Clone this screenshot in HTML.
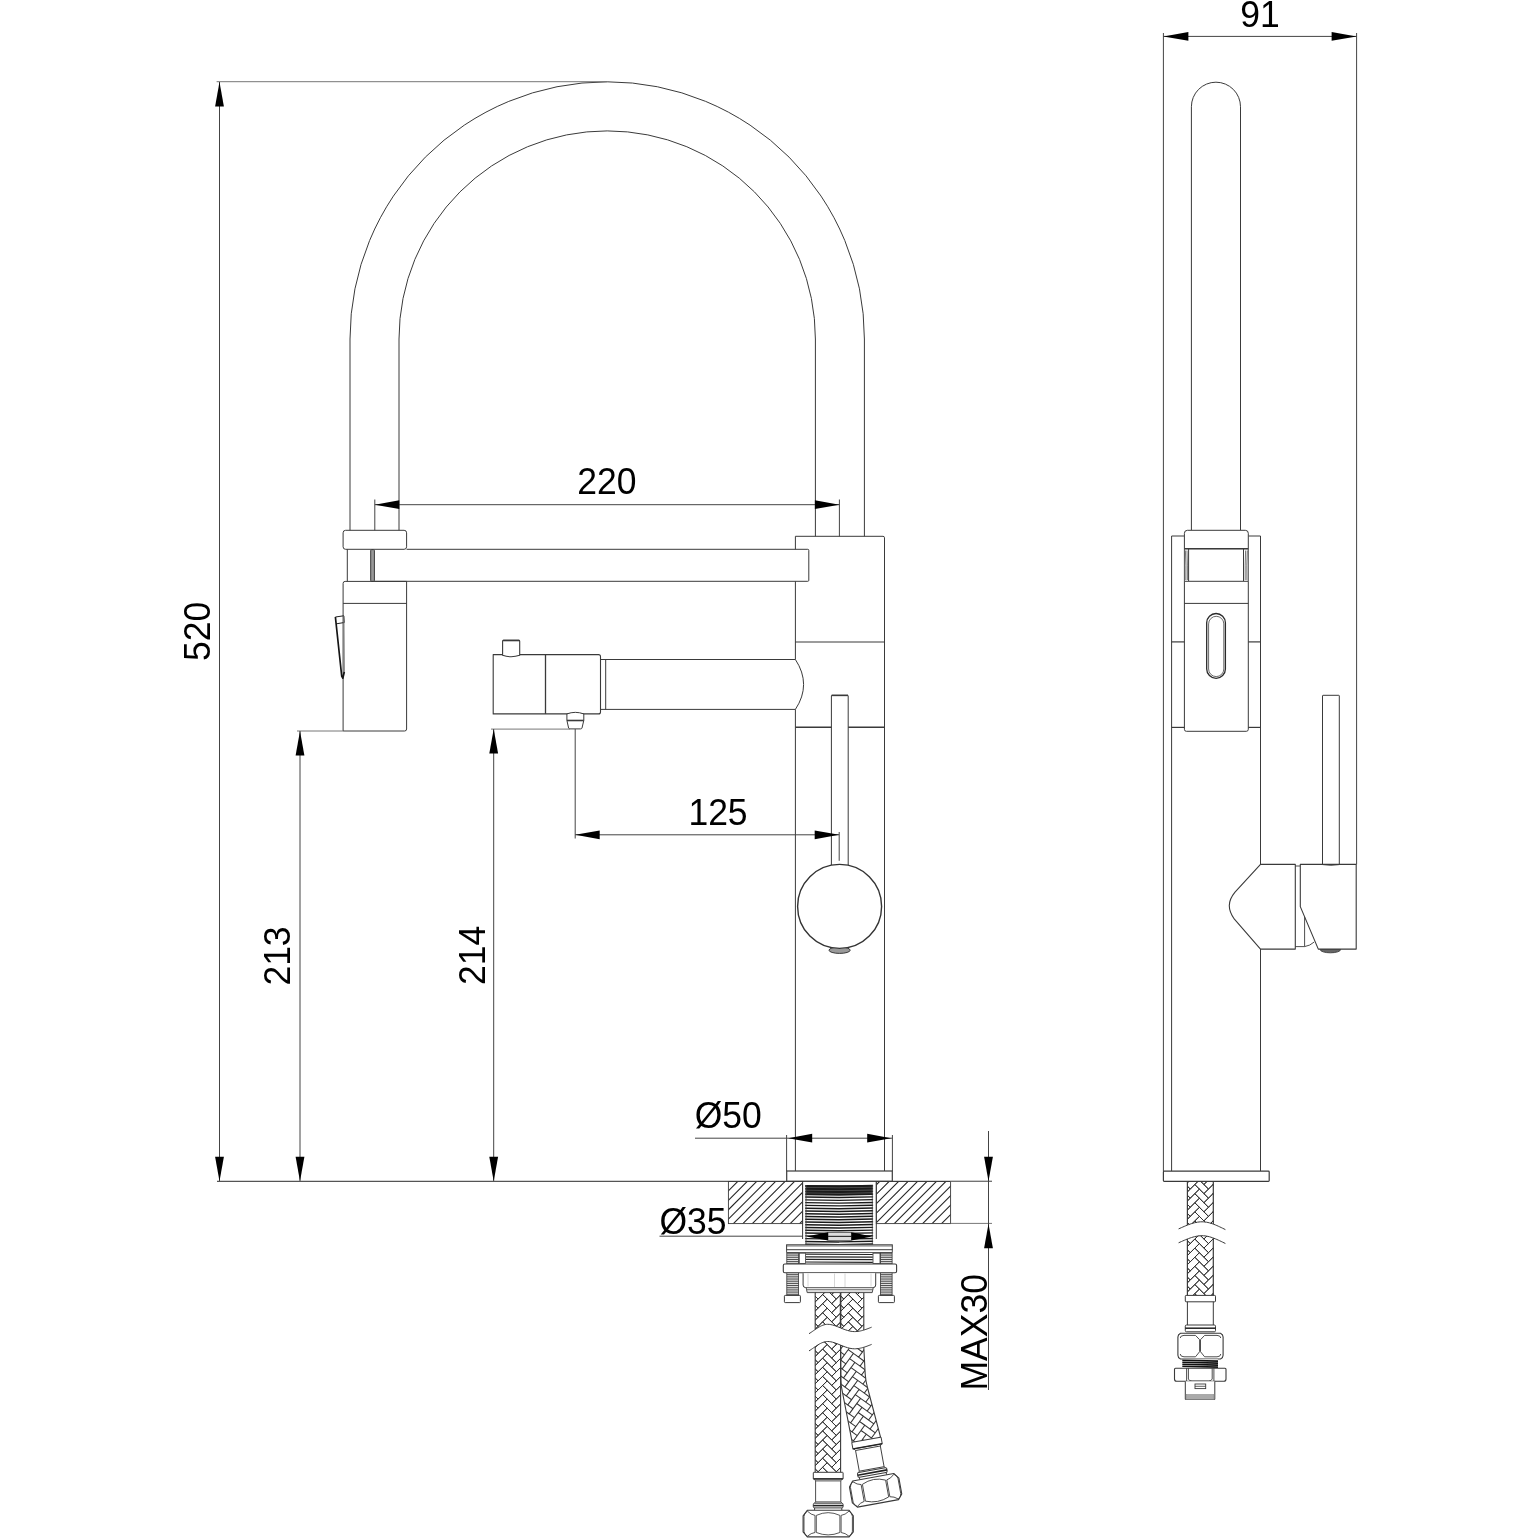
<!DOCTYPE html>
<html><head><meta charset="utf-8"><title>Faucet dimensions</title>
<style>
html,body{margin:0;padding:0;background:#fff;}
body{width:1540px;height:1540px;overflow:hidden;}
svg{display:block;will-change:transform;}
text{font-family:"Liberation Sans",sans-serif;}
</style></head>
<body>
<svg width="1540" height="1540" viewBox="0 0 1540 1540">
<rect x="0" y="0" width="1540" height="1540" fill="#fff"/>
<defs>
<pattern id="hatch" patternUnits="userSpaceOnUse" width="9.5" height="9.5" x="3.0" y="0">
<path d="M-1,10.5 L10.5,-1 M-1,1 L1,-1 M8.5,10.5 L10.5,8.5" stroke="#333" stroke-width="0.95" fill="none"/>
</pattern>
</defs>
<path d="M350.00,530.3 L350.00,339.0 A257.2,257.2 0 0 1 864.40,339.0 L864.40,536.3" stroke="#3a3a3a" stroke-width="1.0" fill="none" stroke-linejoin="round" />
<path d="M399.00,530.3 L399.00,339.0 A208.2,208.2 0 0 1 815.40,339.0 L815.40,536.3" stroke="#3a3a3a" stroke-width="1.0" fill="none" stroke-linejoin="round" />
<line x1="374.80" y1="499.50" x2="374.80" y2="530.30" stroke="#444" stroke-width="1.0" />
<line x1="839.40" y1="499.50" x2="839.40" y2="536.30" stroke="#444" stroke-width="1.0" />
<line x1="374.80" y1="504.70" x2="839.40" y2="504.70" stroke="#444" stroke-width="1.0" />
<polygon points="374.80,504.70 399.30,500.30 399.30,509.10" fill="#000"/>
<polygon points="839.40,504.70 814.90,500.30 814.90,509.10" fill="#000"/>
<text transform="translate(606.90 494.30) scale(0.9492 1)" x="0" y="0" font-size="37.4" text-anchor="middle" fill="#000">220</text>
<rect x="343.10" y="530.30" width="63.50" height="19.00" rx="2.5" ry="2.5" stroke="#3a3a3a" stroke-width="1.0" fill="none"/>
<line x1="347.30" y1="549.30" x2="347.30" y2="581.40" stroke="#3a3a3a" stroke-width="1.0" />
<rect x="370.70" y="549.60" width="3.70" height="31.80" rx="0.8" ry="0.8" stroke="#3a3a3a" stroke-width="1.0" fill="#999"/>
<path d="M406.6,549.3 L807.8,549.3 Q808.8,549.3 808.8,550.3 L808.8,580.3 Q808.8,581.3 807.8,581.3 L374.4,581.3" stroke="#3a3a3a" stroke-width="1.0" fill="none" stroke-linejoin="round" />
<path d="M343.1,583.4 Q343.1,581.4 345.1,581.4 L406.6,581.4 L406.6,729 Q406.6,731 404.6,731 L343.1,731 Z" stroke="#3a3a3a" stroke-width="1.0" fill="none" stroke-linejoin="round" />
<line x1="343.10" y1="603.40" x2="406.60" y2="603.40" stroke="#3a3a3a" stroke-width="1.0" />
<path d="M335.4,617 L343.7,615.8 L344.3,622.5 L336.4,623.8" stroke="#222" stroke-width="1.0" fill="none" stroke-linejoin="round" />
<path d="M343.9,616 L344.3,672.5" stroke="#777" stroke-width="1.0" fill="none" stroke-linejoin="round" />
<path d="M335.4,617 L341.7,676 L342.8,678.2 L344.3,672" stroke="#151515" stroke-width="1.7" fill="none" stroke-linejoin="round" />
<path d="M795.4,549.3 L795.4,536.3 L883,536.3 Q884.5,536.3 884.5,537.8 L884.5,1171.2 M795.4,581.3 L795.4,659.5 M795.4,709.4 L795.4,1171.2" stroke="#3a3a3a" stroke-width="1.0" fill="none" stroke-linejoin="round" />
<line x1="795.40" y1="642.00" x2="884.50" y2="642.00" stroke="#3a3a3a" stroke-width="1.2" />
<line x1="795.40" y1="727.30" x2="831.40" y2="727.30" stroke="#3a3a3a" stroke-width="1.4" />
<line x1="848.20" y1="727.30" x2="884.50" y2="727.30" stroke="#3a3a3a" stroke-width="1.4" />
<path d="M493.2,654.6 L598.5,654.6 Q600.5,654.6 600.5,656.6 L600.5,711.9 Q600.5,713.9 598.5,713.9 L493.2,713.9 Z" stroke="#3a3a3a" stroke-width="1.1" fill="none" stroke-linejoin="round" />
<line x1="545.50" y1="654.60" x2="545.50" y2="713.90" stroke="#3a3a3a" stroke-width="1.3" />
<path d="M502.6,655.3 L502.6,641.2 Q502.6,640.4 503.4,640.4 L518.9,640.4 Q519.7,640.4 519.7,641.2 L519.7,655.3 Q511.2,658.2 502.6,655.3 Z" stroke="#3a3a3a" stroke-width="1.1" fill="#fff" stroke-linejoin="round" />
<line x1="503.20" y1="640.50" x2="519.20" y2="640.50" stroke="#3a3a3a" stroke-width="1.6" />
<path d="M600.5,659.5 L795.4,659.5 M600.5,709.4 L795.4,709.4 M605.7,659.5 L605.7,709.4" stroke="#3a3a3a" stroke-width="1.0" fill="none" stroke-linejoin="round" />
<path d="M795.4,659.5 Q811.8,684.5 795.4,709.4" stroke="#3a3a3a" stroke-width="1.0" fill="none" stroke-linejoin="round" />
<path d="M566.9,713.9 L566.9,720.4 L568.6,728 Q568.8,728.9 570,728.9 L580.6,728.9 Q581.7,728.9 582,728 L583.8,720.4 L583.8,713.9 Q575.3,710.8 566.9,713.9 Z" stroke="#3a3a3a" stroke-width="1.0" fill="#fff" stroke-linejoin="round" />
<line x1="566.90" y1="720.50" x2="583.80" y2="720.50" stroke="#3a3a3a" stroke-width="1.6" />
<path d="M831.4,865.2 L831.4,695.8 Q831.4,695.3 831.9,695.3 L847.7,695.3 Q848.2,695.3 848.2,695.8 L848.2,865.2" stroke="#3a3a3a" stroke-width="1.0" fill="none" stroke-linejoin="round" />
<line x1="831.60" y1="695.40" x2="848.00" y2="695.40" stroke="#3a3a3a" stroke-width="1.5" />
<ellipse cx="839.6" cy="950.2" rx="10.6" ry="3.2" fill="#9a9a9a" stroke="#3a3a3a" stroke-width="1"/>
<circle cx="839.6" cy="906.4" r="42" fill="#fff" stroke="#333" stroke-width="1.4"/>
<line x1="575.20" y1="729.00" x2="575.20" y2="838.50" stroke="#444" stroke-width="1.0" />
<line x1="575.20" y1="834.80" x2="839.20" y2="834.80" stroke="#444" stroke-width="1.0" />
<line x1="839.20" y1="832.00" x2="839.20" y2="860.80" stroke="#444" stroke-width="1.0" />
<polygon points="575.20,834.80 599.70,830.40 599.70,839.20" fill="#000"/>
<polygon points="839.20,834.80 814.70,830.40 814.70,839.20" fill="#000"/>
<text transform="translate(718.00 825.20) scale(0.9492 1)" x="0" y="0" font-size="37.4" text-anchor="middle" fill="#000">125</text>
<line x1="216.60" y1="81.70" x2="607.20" y2="81.70" stroke="#777" stroke-width="1.0" />
<line x1="219.50" y1="82.00" x2="219.50" y2="1181.30" stroke="#444" stroke-width="1.0" />
<polygon points="219.50,82.00 215.10,106.50 223.90,106.50" fill="#000"/>
<polygon points="219.50,1181.30 215.10,1156.80 223.90,1156.80" fill="#000"/>
<text transform="translate(210.20 631.30) rotate(-90) scale(0.9492 1)" x="0" y="0" font-size="37.4" text-anchor="middle" fill="#000">520</text>
<line x1="297.00" y1="731.00" x2="343.10" y2="731.00" stroke="#777" stroke-width="1.0" />
<line x1="300.00" y1="731.00" x2="300.00" y2="1181.30" stroke="#444" stroke-width="1.0" />
<polygon points="300.00,731.00 295.60,755.50 304.40,755.50" fill="#000"/>
<polygon points="300.00,1181.30 295.60,1156.80 304.40,1156.80" fill="#000"/>
<text transform="translate(290.30 956.00) rotate(-90) scale(0.9492 1)" x="0" y="0" font-size="37.4" text-anchor="middle" fill="#000">213</text>
<line x1="491.00" y1="729.10" x2="570.00" y2="729.10" stroke="#777" stroke-width="1.0" />
<line x1="493.70" y1="729.10" x2="493.70" y2="1181.30" stroke="#444" stroke-width="1.0" />
<polygon points="493.70,729.10 489.30,753.60 498.10,753.60" fill="#000"/>
<polygon points="493.70,1181.30 489.30,1156.80 498.10,1156.80" fill="#000"/>
<text transform="translate(484.50 955.40) rotate(-90) scale(0.9492 1)" x="0" y="0" font-size="37.4" text-anchor="middle" fill="#000">214</text>
<line x1="217.00" y1="1181.40" x2="992.00" y2="1181.40" stroke="#555" stroke-width="1.1" />
<line x1="695.00" y1="1138.20" x2="892.40" y2="1138.20" stroke="#444" stroke-width="1.0" />
<line x1="786.60" y1="1135.00" x2="786.60" y2="1171.20" stroke="#444" stroke-width="1.0" />
<line x1="892.40" y1="1135.00" x2="892.40" y2="1171.20" stroke="#444" stroke-width="1.0" />
<polygon points="788.20,1138.20 812.20,1133.80 812.20,1142.60" fill="#000"/>
<polygon points="891.20,1138.20 867.20,1133.80 867.20,1142.60" fill="#000"/>
<text transform="translate(728.30 1128.00) scale(0.9492 1)" x="0" y="0" font-size="37.4" text-anchor="middle" fill="#000">Ø50</text>
<rect x="786.70" y="1171.00" width="105.60" height="10.20" rx="0" ry="0" stroke="#3a3a3a" stroke-width="1.2" fill="#fff"/>
<clipPath id="hl"><rect x="728.4" y="1181.5" width="74.20" height="42.10"/></clipPath>
<path d="M675.68,1224.60 L719.78,1180.50 M685.14,1224.60 L729.24,1180.50 M694.60,1224.60 L738.70,1180.50 M704.06,1224.60 L748.16,1180.50 M713.52,1224.60 L757.62,1180.50 M722.98,1224.60 L767.08,1180.50 M732.44,1224.60 L776.54,1180.50 M741.90,1224.60 L786.00,1180.50 M751.36,1224.60 L795.46,1180.50 M760.82,1224.60 L804.92,1180.50 M770.28,1224.60 L814.38,1180.50 M779.74,1224.60 L823.84,1180.50 M789.20,1224.60 L833.30,1180.50 M798.66,1224.60 L842.76,1180.50 M808.12,1224.60 L852.22,1180.50 M817.58,1224.60 L861.68,1180.50" stroke="#262626" stroke-width="1.1" fill="none" clip-path="url(#hl)"/>
<rect x="728.40" y="1181.50" width="74.20" height="42.10" rx="0" ry="0" stroke="#3a3a3a" stroke-width="0.9" fill="none"/>
<clipPath id="hr"><rect x="876.3" y="1181.5" width="74.30" height="42.10"/></clipPath>
<path d="M817.58,1224.60 L861.68,1180.50 M827.04,1224.60 L871.14,1180.50 M836.50,1224.60 L880.60,1180.50 M845.96,1224.60 L890.06,1180.50 M855.42,1224.60 L899.52,1180.50 M864.88,1224.60 L908.98,1180.50 M874.34,1224.60 L918.44,1180.50 M883.80,1224.60 L927.90,1180.50 M893.26,1224.60 L937.36,1180.50 M902.72,1224.60 L946.82,1180.50 M912.18,1224.60 L956.28,1180.50 M921.64,1224.60 L965.74,1180.50 M931.10,1224.60 L975.20,1180.50 M940.56,1224.60 L984.66,1180.50 M950.02,1224.60 L994.12,1180.50 M959.48,1224.60 L1003.58,1180.50" stroke="#262626" stroke-width="1.1" fill="none" clip-path="url(#hr)"/>
<rect x="876.30" y="1181.50" width="74.30" height="42.10" rx="0" ry="0" stroke="#3a3a3a" stroke-width="0.9" fill="none"/>
<line x1="950.50" y1="1181.40" x2="992.00" y2="1181.40" stroke="#777" stroke-width="1.0" />
<line x1="950.50" y1="1223.40" x2="992.00" y2="1223.40" stroke="#777" stroke-width="1.0" />
<line x1="988.50" y1="1131.00" x2="988.50" y2="1390.00" stroke="#444" stroke-width="1.0" />
<polygon points="988.50,1181.20 984.10,1156.70 992.90,1156.70" fill="#000"/>
<polygon points="988.50,1223.80 984.10,1248.30 992.90,1248.30" fill="#000"/>
<text transform="translate(987.40 1332.30) rotate(-90) scale(0.9492 1)" x="0" y="0" font-size="37.4" text-anchor="middle" fill="#000">MAX30</text>
<line x1="659.50" y1="1236.20" x2="802.60" y2="1236.20" stroke="#444" stroke-width="1.0" />
<text transform="translate(693.00 1234.00) scale(0.9492 1)" x="0" y="0" font-size="37.4" text-anchor="middle" fill="#000">Ø35</text>
<line x1="802.60" y1="1181.40" x2="802.60" y2="1239.00" stroke="#3a3a3a" stroke-width="1.0" />
<line x1="876.30" y1="1181.40" x2="876.30" y2="1239.00" stroke="#3a3a3a" stroke-width="1.0" />
<rect x="806.0" y="1184.5" width="66.30" height="59.5" fill="#fff"/>
<rect x="806.0" y="1185" width="66.30" height="9" fill="#555"/>
<path d="M805.20,1186.00 L839.15,1186.50 L873.10,1185.80" stroke="#1a1a1a" stroke-width="1.9" fill="none" stroke-linejoin="round" />
<path d="M805.20,1188.77 L839.15,1189.27 L873.10,1188.57" stroke="#1a1a1a" stroke-width="1.9" fill="none" stroke-linejoin="round" />
<path d="M805.20,1191.54 L839.15,1192.04 L873.10,1191.34" stroke="#1a1a1a" stroke-width="1.9" fill="none" stroke-linejoin="round" />
<path d="M805.20,1194.31 L839.15,1194.81 L873.10,1194.11" stroke="#1a1a1a" stroke-width="1.9" fill="none" stroke-linejoin="round" />
<path d="M805.20,1197.08 L839.15,1197.58 L873.10,1196.88" stroke="#1a1a1a" stroke-width="1.45" fill="none" stroke-linejoin="round" />
<path d="M805.20,1199.85 L839.15,1200.35 L873.10,1199.65" stroke="#1a1a1a" stroke-width="1.45" fill="none" stroke-linejoin="round" />
<path d="M805.20,1202.62 L839.15,1203.12 L873.10,1202.42" stroke="#1a1a1a" stroke-width="1.45" fill="none" stroke-linejoin="round" />
<path d="M805.20,1205.39 L839.15,1205.89 L873.10,1205.19" stroke="#1a1a1a" stroke-width="1.45" fill="none" stroke-linejoin="round" />
<path d="M805.20,1208.16 L839.15,1208.66 L873.10,1207.96" stroke="#1a1a1a" stroke-width="1.45" fill="none" stroke-linejoin="round" />
<path d="M805.20,1210.93 L839.15,1211.43 L873.10,1210.73" stroke="#1a1a1a" stroke-width="1.45" fill="none" stroke-linejoin="round" />
<path d="M805.20,1213.70 L839.15,1214.20 L873.10,1213.50" stroke="#1a1a1a" stroke-width="1.45" fill="none" stroke-linejoin="round" />
<path d="M805.20,1216.47 L839.15,1216.97 L873.10,1216.27" stroke="#1a1a1a" stroke-width="1.45" fill="none" stroke-linejoin="round" />
<path d="M805.20,1219.24 L839.15,1219.74 L873.10,1219.04" stroke="#1a1a1a" stroke-width="1.45" fill="none" stroke-linejoin="round" />
<path d="M805.20,1222.01 L839.15,1222.51 L873.10,1221.81" stroke="#1a1a1a" stroke-width="1.45" fill="none" stroke-linejoin="round" />
<path d="M805.20,1224.78 L839.15,1225.28 L873.10,1224.58" stroke="#1a1a1a" stroke-width="1.45" fill="none" stroke-linejoin="round" />
<path d="M805.20,1227.55 L839.15,1228.05 L873.10,1227.35" stroke="#1a1a1a" stroke-width="1.45" fill="none" stroke-linejoin="round" />
<path d="M805.20,1230.32 L839.15,1230.82 L873.10,1230.12" stroke="#1a1a1a" stroke-width="1.45" fill="none" stroke-linejoin="round" />
<path d="M805.20,1233.09 L839.15,1233.59 L873.10,1232.89" stroke="#1a1a1a" stroke-width="1.45" fill="none" stroke-linejoin="round" />
<path d="M805.20,1235.86 L839.15,1236.36 L873.10,1235.66" stroke="#1a1a1a" stroke-width="1.45" fill="none" stroke-linejoin="round" />
<path d="M805.20,1238.63 L839.15,1239.13 L873.10,1238.43" stroke="#1a1a1a" stroke-width="1.45" fill="none" stroke-linejoin="round" />
<path d="M805.20,1241.40 L839.15,1241.90 L873.10,1241.20" stroke="#1a1a1a" stroke-width="1.45" fill="none" stroke-linejoin="round" />
<path d="M805.20,1244.17 L839.15,1244.67 L873.10,1243.97" stroke="#1a1a1a" stroke-width="1.45" fill="none" stroke-linejoin="round" />
<line x1="806.00" y1="1185.00" x2="806.00" y2="1244.00" stroke="#444" stroke-width="0.8" />
<line x1="872.30" y1="1185.00" x2="872.30" y2="1244.00" stroke="#444" stroke-width="0.8" />
<rect x="828" y="1232.6" width="23.4" height="7.8" fill="#ddd" stroke="#444" stroke-width="0.7"/>
<line x1="828.00" y1="1236.40" x2="851.40" y2="1236.40" stroke="#333" stroke-width="1.2" />
<polygon points="806.20,1236.40 828.00,1232.20 828.00,1240.60" fill="#000"/>
<polygon points="872.10,1236.40 851.40,1232.20 851.40,1240.60" fill="#000"/>
<rect x="786.60" y="1244.80" width="105.70" height="4.90" rx="0" ry="0" stroke="#3a3a3a" stroke-width="1.0" fill="#fff"/>
<line x1="786.60" y1="1246.00" x2="892.30" y2="1246.00" stroke="#3a3a3a" stroke-width="0.7" />
<line x1="786.60" y1="1252.60" x2="892.30" y2="1252.60" stroke="#3a3a3a" stroke-width="0.9" />
<line x1="786.60" y1="1249.70" x2="786.60" y2="1252.60" stroke="#3a3a3a" stroke-width="0.9" />
<line x1="892.30" y1="1249.70" x2="892.30" y2="1252.60" stroke="#3a3a3a" stroke-width="0.9" />
<rect x="806.0" y="1253" width="66.30" height="10.8" fill="#fff"/>
<line x1="805.50" y1="1254.20" x2="872.80" y2="1254.50" stroke="#222" stroke-width="1.2" />
<line x1="805.50" y1="1256.80" x2="872.80" y2="1257.10" stroke="#222" stroke-width="1.2" />
<line x1="805.50" y1="1259.40" x2="872.80" y2="1259.70" stroke="#222" stroke-width="1.2" />
<line x1="805.50" y1="1262.00" x2="872.80" y2="1262.30" stroke="#222" stroke-width="1.2" />
<rect x="786.8" y="1253" width="11.80" height="42.5" fill="#fff" stroke="#3a3a3a" stroke-width="0.8"/>
<line x1="786.80" y1="1254.00" x2="798.60" y2="1254.00" stroke="#333" stroke-width="0.9" />
<line x1="786.80" y1="1255.85" x2="798.60" y2="1255.85" stroke="#333" stroke-width="0.9" />
<line x1="786.80" y1="1257.70" x2="798.60" y2="1257.70" stroke="#333" stroke-width="0.9" />
<line x1="786.80" y1="1259.55" x2="798.60" y2="1259.55" stroke="#333" stroke-width="0.9" />
<line x1="786.80" y1="1261.40" x2="798.60" y2="1261.40" stroke="#333" stroke-width="0.9" />
<line x1="786.80" y1="1263.25" x2="798.60" y2="1263.25" stroke="#333" stroke-width="0.9" />
<line x1="786.80" y1="1265.10" x2="798.60" y2="1265.10" stroke="#333" stroke-width="0.9" />
<line x1="786.80" y1="1266.95" x2="798.60" y2="1266.95" stroke="#333" stroke-width="0.9" />
<line x1="786.80" y1="1268.80" x2="798.60" y2="1268.80" stroke="#333" stroke-width="0.9" />
<line x1="786.80" y1="1270.65" x2="798.60" y2="1270.65" stroke="#333" stroke-width="0.9" />
<line x1="786.80" y1="1272.50" x2="798.60" y2="1272.50" stroke="#333" stroke-width="0.9" />
<line x1="786.80" y1="1274.35" x2="798.60" y2="1274.35" stroke="#333" stroke-width="0.9" />
<line x1="786.80" y1="1276.20" x2="798.60" y2="1276.20" stroke="#333" stroke-width="0.9" />
<line x1="786.80" y1="1278.05" x2="798.60" y2="1278.05" stroke="#333" stroke-width="0.9" />
<line x1="786.80" y1="1279.90" x2="798.60" y2="1279.90" stroke="#333" stroke-width="0.9" />
<line x1="786.80" y1="1281.75" x2="798.60" y2="1281.75" stroke="#333" stroke-width="0.9" />
<line x1="786.80" y1="1283.60" x2="798.60" y2="1283.60" stroke="#333" stroke-width="0.9" />
<line x1="786.80" y1="1285.45" x2="798.60" y2="1285.45" stroke="#333" stroke-width="0.9" />
<line x1="786.80" y1="1287.30" x2="798.60" y2="1287.30" stroke="#333" stroke-width="0.9" />
<line x1="786.80" y1="1289.15" x2="798.60" y2="1289.15" stroke="#333" stroke-width="0.9" />
<line x1="786.80" y1="1291.00" x2="798.60" y2="1291.00" stroke="#333" stroke-width="0.9" />
<line x1="786.80" y1="1292.85" x2="798.60" y2="1292.85" stroke="#333" stroke-width="0.9" />
<line x1="786.80" y1="1294.70" x2="798.60" y2="1294.70" stroke="#333" stroke-width="0.9" />
<rect x="784.40" y="1295.40" width="16.00" height="7.20" rx="0.8" ry="0.8" stroke="#3a3a3a" stroke-width="1.0" fill="#fff"/>
<rect x="880.4" y="1253" width="11.70" height="42.5" fill="#fff" stroke="#3a3a3a" stroke-width="0.8"/>
<line x1="880.40" y1="1254.00" x2="892.10" y2="1254.00" stroke="#333" stroke-width="0.9" />
<line x1="880.40" y1="1255.85" x2="892.10" y2="1255.85" stroke="#333" stroke-width="0.9" />
<line x1="880.40" y1="1257.70" x2="892.10" y2="1257.70" stroke="#333" stroke-width="0.9" />
<line x1="880.40" y1="1259.55" x2="892.10" y2="1259.55" stroke="#333" stroke-width="0.9" />
<line x1="880.40" y1="1261.40" x2="892.10" y2="1261.40" stroke="#333" stroke-width="0.9" />
<line x1="880.40" y1="1263.25" x2="892.10" y2="1263.25" stroke="#333" stroke-width="0.9" />
<line x1="880.40" y1="1265.10" x2="892.10" y2="1265.10" stroke="#333" stroke-width="0.9" />
<line x1="880.40" y1="1266.95" x2="892.10" y2="1266.95" stroke="#333" stroke-width="0.9" />
<line x1="880.40" y1="1268.80" x2="892.10" y2="1268.80" stroke="#333" stroke-width="0.9" />
<line x1="880.40" y1="1270.65" x2="892.10" y2="1270.65" stroke="#333" stroke-width="0.9" />
<line x1="880.40" y1="1272.50" x2="892.10" y2="1272.50" stroke="#333" stroke-width="0.9" />
<line x1="880.40" y1="1274.35" x2="892.10" y2="1274.35" stroke="#333" stroke-width="0.9" />
<line x1="880.40" y1="1276.20" x2="892.10" y2="1276.20" stroke="#333" stroke-width="0.9" />
<line x1="880.40" y1="1278.05" x2="892.10" y2="1278.05" stroke="#333" stroke-width="0.9" />
<line x1="880.40" y1="1279.90" x2="892.10" y2="1279.90" stroke="#333" stroke-width="0.9" />
<line x1="880.40" y1="1281.75" x2="892.10" y2="1281.75" stroke="#333" stroke-width="0.9" />
<line x1="880.40" y1="1283.60" x2="892.10" y2="1283.60" stroke="#333" stroke-width="0.9" />
<line x1="880.40" y1="1285.45" x2="892.10" y2="1285.45" stroke="#333" stroke-width="0.9" />
<line x1="880.40" y1="1287.30" x2="892.10" y2="1287.30" stroke="#333" stroke-width="0.9" />
<line x1="880.40" y1="1289.15" x2="892.10" y2="1289.15" stroke="#333" stroke-width="0.9" />
<line x1="880.40" y1="1291.00" x2="892.10" y2="1291.00" stroke="#333" stroke-width="0.9" />
<line x1="880.40" y1="1292.85" x2="892.10" y2="1292.85" stroke="#333" stroke-width="0.9" />
<line x1="880.40" y1="1294.70" x2="892.10" y2="1294.70" stroke="#333" stroke-width="0.9" />
<rect x="878.40" y="1295.40" width="16.00" height="7.20" rx="0.8" ry="0.8" stroke="#3a3a3a" stroke-width="1.0" fill="#fff"/>
<rect x="799.30" y="1253.20" width="6.30" height="10.40" rx="0" ry="0" stroke="#3a3a3a" stroke-width="0.8" fill="#fff"/>
<rect x="873.00" y="1253.20" width="7.00" height="10.40" rx="0" ry="0" stroke="#3a3a3a" stroke-width="0.8" fill="#fff"/>
<rect x="783.30" y="1264.00" width="113.30" height="8.80" rx="1.5" ry="1.5" stroke="#3a3a3a" stroke-width="1.1" fill="#fff"/>
<path d="M803.1,1273.2 L803.1,1285 Q803.1,1287.6 805.7,1287.6 L873.1,1287.6 Q875.7,1287.6 875.7,1285 L875.7,1273.2" stroke="#3a3a3a" stroke-width="1.0" fill="#fff" stroke-linejoin="round" />
<path d="M808,1273.5 L808,1286.5 M871,1273.5 L871,1286.5 M834.5,1273.5 L834.5,1287 M845,1273.5 L845,1287" stroke="#ccc" stroke-width="0.8" fill="none" stroke-linejoin="round" />
<path d="M806.2,1287.8 L807.2,1292.6 L872.2,1292.6 L873.2,1287.8" stroke="#3a3a3a" stroke-width="0.9" fill="#ddd" stroke-linejoin="round" />
<line x1="806.20" y1="1289.60" x2="873.20" y2="1289.60" stroke="#666" stroke-width="0.8" />
<clipPath id="hA"><path d="M815.20,1292.80 L840.60,1292.80 L840.60,1327.92 L838.99,1327.27 L837.33,1326.61 L835.68,1325.99 L834.05,1325.44 L832.44,1324.97 L830.85,1324.61 L829.26,1324.38 L827.70,1324.30 L826.45,1324.36 L825.22,1324.55 L824.00,1324.85 L822.80,1325.25 L821.60,1325.73 L820.42,1326.30 L819.25,1326.93 L818.09,1327.61 L816.93,1328.34 L815.79,1329.10 L815.20,1329.50Z"/></clipPath>
<clipPath id="hB"><path d="M840.60,1292.80 L863.80,1292.80 L863.80,1330.07 L863.78,1330.08 L862.69,1330.39 L861.58,1330.68 L860.45,1330.94 L859.31,1331.17 L858.15,1331.35 L856.98,1331.48 L855.80,1331.57 L854.60,1331.60 L852.81,1331.52 L851.03,1331.29 L849.26,1330.93 L847.51,1330.46 L845.78,1329.91 L844.06,1329.29 L842.35,1328.63 L840.66,1327.95 L840.60,1327.92Z"/></clipPath>
<g clip-path="url(#hA)"><path d="M790.8,1271.8 L799.9,1280.9 L795.4,1285.5 L786.3,1276.4Z M786.3,1276.4 L790.8,1280.9 L781.7,1290.0 L777.2,1285.5Z M790.8,1280.9 L799.9,1290.0 L795.4,1294.5 L786.3,1285.5Z M786.3,1285.5 L790.8,1290.0 L781.7,1299.1 L777.2,1294.5Z M790.8,1290.0 L799.9,1299.1 L795.4,1303.6 L786.3,1294.5Z M786.3,1294.5 L790.8,1299.1 L781.7,1308.2 L777.2,1303.6Z M790.8,1299.1 L799.9,1308.2 L795.4,1312.7 L786.3,1303.6Z M786.3,1303.6 L790.8,1308.2 L781.7,1317.3 L777.2,1312.7Z M790.8,1308.2 L799.9,1317.3 L795.4,1321.8 L786.3,1312.7Z M786.3,1312.7 L790.8,1317.3 L781.7,1326.4 L777.2,1321.8Z M790.8,1317.3 L799.9,1326.4 L795.4,1330.9 L786.3,1321.8Z M786.3,1321.8 L790.8,1326.4 L781.7,1335.5 L777.2,1330.9Z M790.8,1326.4 L799.9,1335.5 L795.4,1340.0 L786.3,1330.9Z M786.3,1330.9 L790.8,1335.5 L781.7,1344.6 L777.2,1340.0Z M790.8,1335.5 L799.9,1344.6 L795.4,1349.1 L786.3,1340.0Z M786.3,1340.0 L790.8,1344.6 L781.7,1353.7 L777.2,1349.1Z M790.8,1344.6 L799.9,1353.7 L795.4,1358.2 L786.3,1349.1Z M786.3,1349.1 L790.8,1353.7 L781.7,1362.7 L777.2,1358.2Z M790.8,1353.7 L799.9,1362.7 L795.4,1367.3 L786.3,1358.2Z M786.3,1358.2 L790.8,1362.7 L781.7,1371.8 L777.2,1367.3Z M790.8,1362.7 L799.9,1371.8 L795.4,1376.4 L786.3,1367.3Z M786.3,1367.3 L790.8,1371.8 L781.7,1380.9 L777.2,1376.4Z M809.0,1271.8 L818.1,1280.9 L813.5,1285.5 L804.5,1276.4Z M804.5,1276.4 L809.0,1280.9 L799.9,1290.0 L795.4,1285.5Z M809.0,1280.9 L818.1,1290.0 L813.5,1294.5 L804.5,1285.5Z M804.5,1285.5 L809.0,1290.0 L799.9,1299.1 L795.4,1294.5Z M809.0,1290.0 L818.1,1299.1 L813.5,1303.6 L804.5,1294.5Z M804.5,1294.5 L809.0,1299.1 L799.9,1308.2 L795.4,1303.6Z M809.0,1299.1 L818.1,1308.2 L813.5,1312.7 L804.5,1303.6Z M804.5,1303.6 L809.0,1308.2 L799.9,1317.3 L795.4,1312.7Z M809.0,1308.2 L818.1,1317.3 L813.5,1321.8 L804.5,1312.7Z M804.5,1312.7 L809.0,1317.3 L799.9,1326.4 L795.4,1321.8Z M809.0,1317.3 L818.1,1326.4 L813.5,1330.9 L804.5,1321.8Z M804.5,1321.8 L809.0,1326.4 L799.9,1335.5 L795.4,1330.9Z M809.0,1326.4 L818.1,1335.5 L813.5,1340.0 L804.5,1330.9Z M804.5,1330.9 L809.0,1335.5 L799.9,1344.6 L795.4,1340.0Z M809.0,1335.5 L818.1,1344.6 L813.5,1349.1 L804.5,1340.0Z M804.5,1340.0 L809.0,1344.6 L799.9,1353.7 L795.4,1349.1Z M809.0,1344.6 L818.1,1353.7 L813.5,1358.2 L804.5,1349.1Z M804.5,1349.1 L809.0,1353.7 L799.9,1362.7 L795.4,1358.2Z M809.0,1353.7 L818.1,1362.7 L813.5,1367.3 L804.5,1358.2Z M804.5,1358.2 L809.0,1362.7 L799.9,1371.8 L795.4,1367.3Z M809.0,1362.7 L818.1,1371.8 L813.5,1376.4 L804.5,1367.3Z M804.5,1367.3 L809.0,1371.8 L799.9,1380.9 L795.4,1376.4Z M827.2,1271.8 L836.3,1280.9 L831.7,1285.5 L822.6,1276.4Z M822.6,1276.4 L827.2,1280.9 L818.1,1290.0 L813.5,1285.5Z M827.2,1280.9 L836.3,1290.0 L831.7,1294.5 L822.6,1285.5Z M822.6,1285.5 L827.2,1290.0 L818.1,1299.1 L813.5,1294.5Z M827.2,1290.0 L836.3,1299.1 L831.7,1303.6 L822.6,1294.5Z M822.6,1294.5 L827.2,1299.1 L818.1,1308.2 L813.5,1303.6Z M827.2,1299.1 L836.3,1308.2 L831.7,1312.7 L822.6,1303.6Z M822.6,1303.6 L827.2,1308.2 L818.1,1317.3 L813.5,1312.7Z M827.2,1308.2 L836.3,1317.3 L831.7,1321.8 L822.6,1312.7Z M822.6,1312.7 L827.2,1317.3 L818.1,1326.4 L813.5,1321.8Z M827.2,1317.3 L836.3,1326.4 L831.7,1330.9 L822.6,1321.8Z M822.6,1321.8 L827.2,1326.4 L818.1,1335.5 L813.5,1330.9Z M827.2,1326.4 L836.3,1335.5 L831.7,1340.0 L822.6,1330.9Z M822.6,1330.9 L827.2,1335.5 L818.1,1344.6 L813.5,1340.0Z M827.2,1335.5 L836.3,1344.6 L831.7,1349.1 L822.6,1340.0Z M822.6,1340.0 L827.2,1344.6 L818.1,1353.7 L813.5,1349.1Z M827.2,1344.6 L836.3,1353.7 L831.7,1358.2 L822.6,1349.1Z M822.6,1349.1 L827.2,1353.7 L818.1,1362.7 L813.5,1358.2Z M827.2,1353.7 L836.3,1362.7 L831.7,1367.3 L822.6,1358.2Z M822.6,1358.2 L827.2,1362.7 L818.1,1371.8 L813.5,1367.3Z M827.2,1362.7 L836.3,1371.8 L831.7,1376.4 L822.6,1367.3Z M822.6,1367.3 L827.2,1371.8 L818.1,1380.9 L813.5,1376.4Z M845.4,1271.8 L854.5,1280.9 L849.9,1285.5 L840.8,1276.4Z M840.8,1276.4 L845.4,1280.9 L836.3,1290.0 L831.7,1285.5Z M845.4,1280.9 L854.5,1290.0 L849.9,1294.5 L840.8,1285.5Z M840.8,1285.5 L845.4,1290.0 L836.3,1299.1 L831.7,1294.5Z M845.4,1290.0 L854.5,1299.1 L849.9,1303.6 L840.8,1294.5Z M840.8,1294.5 L845.4,1299.1 L836.3,1308.2 L831.7,1303.6Z M845.4,1299.1 L854.5,1308.2 L849.9,1312.7 L840.8,1303.6Z M840.8,1303.6 L845.4,1308.2 L836.3,1317.3 L831.7,1312.7Z M845.4,1308.2 L854.5,1317.3 L849.9,1321.8 L840.8,1312.7Z M840.8,1312.7 L845.4,1317.3 L836.3,1326.4 L831.7,1321.8Z M845.4,1317.3 L854.5,1326.4 L849.9,1330.9 L840.8,1321.8Z M840.8,1321.8 L845.4,1326.4 L836.3,1335.5 L831.7,1330.9Z M845.4,1326.4 L854.5,1335.5 L849.9,1340.0 L840.8,1330.9Z M840.8,1330.9 L845.4,1335.5 L836.3,1344.6 L831.7,1340.0Z M845.4,1335.5 L854.5,1344.6 L849.9,1349.1 L840.8,1340.0Z M840.8,1340.0 L845.4,1344.6 L836.3,1353.7 L831.7,1349.1Z M845.4,1344.6 L854.5,1353.7 L849.9,1358.2 L840.8,1349.1Z M840.8,1349.1 L845.4,1353.7 L836.3,1362.7 L831.7,1358.2Z M845.4,1353.7 L854.5,1362.7 L849.9,1367.3 L840.8,1358.2Z M840.8,1358.2 L845.4,1362.7 L836.3,1371.8 L831.7,1367.3Z M845.4,1362.7 L854.5,1371.8 L849.9,1376.4 L840.8,1367.3Z M840.8,1367.3 L845.4,1371.8 L836.3,1380.9 L831.7,1376.4Z M863.6,1271.8 L872.7,1280.9 L868.1,1285.5 L859.0,1276.4Z M859.0,1276.4 L863.6,1280.9 L854.5,1290.0 L849.9,1285.5Z M863.6,1280.9 L872.7,1290.0 L868.1,1294.5 L859.0,1285.5Z M859.0,1285.5 L863.6,1290.0 L854.5,1299.1 L849.9,1294.5Z M863.6,1290.0 L872.7,1299.1 L868.1,1303.6 L859.0,1294.5Z M859.0,1294.5 L863.6,1299.1 L854.5,1308.2 L849.9,1303.6Z M863.6,1299.1 L872.7,1308.2 L868.1,1312.7 L859.0,1303.6Z M859.0,1303.6 L863.6,1308.2 L854.5,1317.3 L849.9,1312.7Z M863.6,1308.2 L872.7,1317.3 L868.1,1321.8 L859.0,1312.7Z M859.0,1312.7 L863.6,1317.3 L854.5,1326.4 L849.9,1321.8Z M863.6,1317.3 L872.7,1326.4 L868.1,1330.9 L859.0,1321.8Z M859.0,1321.8 L863.6,1326.4 L854.5,1335.5 L849.9,1330.9Z M863.6,1326.4 L872.7,1335.5 L868.1,1340.0 L859.0,1330.9Z M859.0,1330.9 L863.6,1335.5 L854.5,1344.6 L849.9,1340.0Z M863.6,1335.5 L872.7,1344.6 L868.1,1349.1 L859.0,1340.0Z M859.0,1340.0 L863.6,1344.6 L854.5,1353.7 L849.9,1349.1Z M863.6,1344.6 L872.7,1353.7 L868.1,1358.2 L859.0,1349.1Z M859.0,1349.1 L863.6,1353.7 L854.5,1362.7 L849.9,1358.2Z M863.6,1353.7 L872.7,1362.7 L868.1,1367.3 L859.0,1358.2Z M859.0,1358.2 L863.6,1362.7 L854.5,1371.8 L849.9,1367.3Z M863.6,1362.7 L872.7,1371.8 L868.1,1376.4 L859.0,1367.3Z M859.0,1367.3 L863.6,1371.8 L854.5,1380.9 L849.9,1376.4Z" fill="none" stroke="#333" stroke-width="1.0"/></g>
<g clip-path="url(#hB)"><path d="M816.5,1271.8 L825.6,1280.9 L821.1,1285.5 L812.0,1276.4Z M812.0,1276.4 L816.5,1280.9 L807.4,1290.0 L802.9,1285.5Z M816.5,1280.9 L825.6,1290.0 L821.1,1294.5 L812.0,1285.5Z M812.0,1285.5 L816.5,1290.0 L807.4,1299.1 L802.9,1294.5Z M816.5,1290.0 L825.6,1299.1 L821.1,1303.6 L812.0,1294.5Z M812.0,1294.5 L816.5,1299.1 L807.4,1308.2 L802.9,1303.6Z M816.5,1299.1 L825.6,1308.2 L821.1,1312.7 L812.0,1303.6Z M812.0,1303.6 L816.5,1308.2 L807.4,1317.3 L802.9,1312.7Z M816.5,1308.2 L825.6,1317.3 L821.1,1321.8 L812.0,1312.7Z M812.0,1312.7 L816.5,1317.3 L807.4,1326.4 L802.9,1321.8Z M816.5,1317.3 L825.6,1326.4 L821.1,1330.9 L812.0,1321.8Z M812.0,1321.8 L816.5,1326.4 L807.4,1335.5 L802.9,1330.9Z M816.5,1326.4 L825.6,1335.5 L821.1,1340.0 L812.0,1330.9Z M812.0,1330.9 L816.5,1335.5 L807.4,1344.6 L802.9,1340.0Z M816.5,1335.5 L825.6,1344.6 L821.1,1349.1 L812.0,1340.0Z M812.0,1340.0 L816.5,1344.6 L807.4,1353.7 L802.9,1349.1Z M816.5,1344.6 L825.6,1353.7 L821.1,1358.2 L812.0,1349.1Z M812.0,1349.1 L816.5,1353.7 L807.4,1362.7 L802.9,1358.2Z M816.5,1353.7 L825.6,1362.7 L821.1,1367.3 L812.0,1358.2Z M812.0,1358.2 L816.5,1362.7 L807.4,1371.8 L802.9,1367.3Z M816.5,1362.7 L825.6,1371.8 L821.1,1376.4 L812.0,1367.3Z M812.0,1367.3 L816.5,1371.8 L807.4,1380.9 L802.9,1376.4Z M834.7,1271.8 L843.8,1280.9 L839.2,1285.5 L830.2,1276.4Z M830.2,1276.4 L834.7,1280.9 L825.6,1290.0 L821.1,1285.5Z M834.7,1280.9 L843.8,1290.0 L839.2,1294.5 L830.2,1285.5Z M830.2,1285.5 L834.7,1290.0 L825.6,1299.1 L821.1,1294.5Z M834.7,1290.0 L843.8,1299.1 L839.2,1303.6 L830.2,1294.5Z M830.2,1294.5 L834.7,1299.1 L825.6,1308.2 L821.1,1303.6Z M834.7,1299.1 L843.8,1308.2 L839.2,1312.7 L830.2,1303.6Z M830.2,1303.6 L834.7,1308.2 L825.6,1317.3 L821.1,1312.7Z M834.7,1308.2 L843.8,1317.3 L839.2,1321.8 L830.2,1312.7Z M830.2,1312.7 L834.7,1317.3 L825.6,1326.4 L821.1,1321.8Z M834.7,1317.3 L843.8,1326.4 L839.2,1330.9 L830.2,1321.8Z M830.2,1321.8 L834.7,1326.4 L825.6,1335.5 L821.1,1330.9Z M834.7,1326.4 L843.8,1335.5 L839.2,1340.0 L830.2,1330.9Z M830.2,1330.9 L834.7,1335.5 L825.6,1344.6 L821.1,1340.0Z M834.7,1335.5 L843.8,1344.6 L839.2,1349.1 L830.2,1340.0Z M830.2,1340.0 L834.7,1344.6 L825.6,1353.7 L821.1,1349.1Z M834.7,1344.6 L843.8,1353.7 L839.2,1358.2 L830.2,1349.1Z M830.2,1349.1 L834.7,1353.7 L825.6,1362.7 L821.1,1358.2Z M834.7,1353.7 L843.8,1362.7 L839.2,1367.3 L830.2,1358.2Z M830.2,1358.2 L834.7,1362.7 L825.6,1371.8 L821.1,1367.3Z M834.7,1362.7 L843.8,1371.8 L839.2,1376.4 L830.2,1367.3Z M830.2,1367.3 L834.7,1371.8 L825.6,1380.9 L821.1,1376.4Z M852.9,1271.8 L862.0,1280.9 L857.4,1285.5 L848.3,1276.4Z M848.3,1276.4 L852.9,1280.9 L843.8,1290.0 L839.2,1285.5Z M852.9,1280.9 L862.0,1290.0 L857.4,1294.5 L848.3,1285.5Z M848.3,1285.5 L852.9,1290.0 L843.8,1299.1 L839.2,1294.5Z M852.9,1290.0 L862.0,1299.1 L857.4,1303.6 L848.3,1294.5Z M848.3,1294.5 L852.9,1299.1 L843.8,1308.2 L839.2,1303.6Z M852.9,1299.1 L862.0,1308.2 L857.4,1312.7 L848.3,1303.6Z M848.3,1303.6 L852.9,1308.2 L843.8,1317.3 L839.2,1312.7Z M852.9,1308.2 L862.0,1317.3 L857.4,1321.8 L848.3,1312.7Z M848.3,1312.7 L852.9,1317.3 L843.8,1326.4 L839.2,1321.8Z M852.9,1317.3 L862.0,1326.4 L857.4,1330.9 L848.3,1321.8Z M848.3,1321.8 L852.9,1326.4 L843.8,1335.5 L839.2,1330.9Z M852.9,1326.4 L862.0,1335.5 L857.4,1340.0 L848.3,1330.9Z M848.3,1330.9 L852.9,1335.5 L843.8,1344.6 L839.2,1340.0Z M852.9,1335.5 L862.0,1344.6 L857.4,1349.1 L848.3,1340.0Z M848.3,1340.0 L852.9,1344.6 L843.8,1353.7 L839.2,1349.1Z M852.9,1344.6 L862.0,1353.7 L857.4,1358.2 L848.3,1349.1Z M848.3,1349.1 L852.9,1353.7 L843.8,1362.7 L839.2,1358.2Z M852.9,1353.7 L862.0,1362.7 L857.4,1367.3 L848.3,1358.2Z M848.3,1358.2 L852.9,1362.7 L843.8,1371.8 L839.2,1367.3Z M852.9,1362.7 L862.0,1371.8 L857.4,1376.4 L848.3,1367.3Z M848.3,1367.3 L852.9,1371.8 L843.8,1380.9 L839.2,1376.4Z M871.1,1271.8 L880.2,1280.9 L875.6,1285.5 L866.5,1276.4Z M866.5,1276.4 L871.1,1280.9 L862.0,1290.0 L857.4,1285.5Z M871.1,1280.9 L880.2,1290.0 L875.6,1294.5 L866.5,1285.5Z M866.5,1285.5 L871.1,1290.0 L862.0,1299.1 L857.4,1294.5Z M871.1,1290.0 L880.2,1299.1 L875.6,1303.6 L866.5,1294.5Z M866.5,1294.5 L871.1,1299.1 L862.0,1308.2 L857.4,1303.6Z M871.1,1299.1 L880.2,1308.2 L875.6,1312.7 L866.5,1303.6Z M866.5,1303.6 L871.1,1308.2 L862.0,1317.3 L857.4,1312.7Z M871.1,1308.2 L880.2,1317.3 L875.6,1321.8 L866.5,1312.7Z M866.5,1312.7 L871.1,1317.3 L862.0,1326.4 L857.4,1321.8Z M871.1,1317.3 L880.2,1326.4 L875.6,1330.9 L866.5,1321.8Z M866.5,1321.8 L871.1,1326.4 L862.0,1335.5 L857.4,1330.9Z M871.1,1326.4 L880.2,1335.5 L875.6,1340.0 L866.5,1330.9Z M866.5,1330.9 L871.1,1335.5 L862.0,1344.6 L857.4,1340.0Z M871.1,1335.5 L880.2,1344.6 L875.6,1349.1 L866.5,1340.0Z M866.5,1340.0 L871.1,1344.6 L862.0,1353.7 L857.4,1349.1Z M871.1,1344.6 L880.2,1353.7 L875.6,1358.2 L866.5,1349.1Z M866.5,1349.1 L871.1,1353.7 L862.0,1362.7 L857.4,1358.2Z M871.1,1353.7 L880.2,1362.7 L875.6,1367.3 L866.5,1358.2Z M866.5,1358.2 L871.1,1362.7 L862.0,1371.8 L857.4,1367.3Z M871.1,1362.7 L880.2,1371.8 L875.6,1376.4 L866.5,1367.3Z M866.5,1367.3 L871.1,1371.8 L862.0,1380.9 L857.4,1376.4Z M889.3,1271.8 L898.4,1280.9 L893.8,1285.5 L884.7,1276.4Z M884.7,1276.4 L889.3,1280.9 L880.2,1290.0 L875.6,1285.5Z M889.3,1280.9 L898.4,1290.0 L893.8,1294.5 L884.7,1285.5Z M884.7,1285.5 L889.3,1290.0 L880.2,1299.1 L875.6,1294.5Z M889.3,1290.0 L898.4,1299.1 L893.8,1303.6 L884.7,1294.5Z M884.7,1294.5 L889.3,1299.1 L880.2,1308.2 L875.6,1303.6Z M889.3,1299.1 L898.4,1308.2 L893.8,1312.7 L884.7,1303.6Z M884.7,1303.6 L889.3,1308.2 L880.2,1317.3 L875.6,1312.7Z M889.3,1308.2 L898.4,1317.3 L893.8,1321.8 L884.7,1312.7Z M884.7,1312.7 L889.3,1317.3 L880.2,1326.4 L875.6,1321.8Z M889.3,1317.3 L898.4,1326.4 L893.8,1330.9 L884.7,1321.8Z M884.7,1321.8 L889.3,1326.4 L880.2,1335.5 L875.6,1330.9Z M889.3,1326.4 L898.4,1335.5 L893.8,1340.0 L884.7,1330.9Z M884.7,1330.9 L889.3,1335.5 L880.2,1344.6 L875.6,1340.0Z M889.3,1335.5 L898.4,1344.6 L893.8,1349.1 L884.7,1340.0Z M884.7,1340.0 L889.3,1344.6 L880.2,1353.7 L875.6,1349.1Z M889.3,1344.6 L898.4,1353.7 L893.8,1358.2 L884.7,1349.1Z M884.7,1349.1 L889.3,1353.7 L880.2,1362.7 L875.6,1358.2Z M889.3,1353.7 L898.4,1362.7 L893.8,1367.3 L884.7,1358.2Z M884.7,1358.2 L889.3,1362.7 L880.2,1371.8 L875.6,1367.3Z M889.3,1362.7 L898.4,1371.8 L893.8,1376.4 L884.7,1367.3Z M884.7,1367.3 L889.3,1371.8 L880.2,1380.9 L875.6,1376.4Z" fill="none" stroke="#333" stroke-width="1.0"/></g>
<path d="M815.2,1292.8 L815.2,1329.50 M863.8,1292.8 L863.8,1330.07" stroke="#3a3a3a" stroke-width="1.1" fill="none" stroke-linejoin="round" />
<path d="M840.6,1292.8 L840.6,1327.92" stroke="#3a3a3a" stroke-width="1.6" fill="none" stroke-linejoin="round" />
<path d="M809.00,1333.70 L810.13,1332.98 L811.25,1332.23 L812.38,1331.46 L813.51,1330.67 L814.65,1329.88 L815.79,1329.10 L816.93,1328.34 L818.09,1327.61 L819.25,1326.93 L820.42,1326.30 L821.60,1325.73 L822.80,1325.25 L824.00,1324.85 L825.22,1324.55 L826.45,1324.36 L827.70,1324.30 L829.26,1324.38 L830.85,1324.61 L832.44,1324.97 L834.05,1325.44 L835.68,1325.99 L837.33,1326.61 L838.99,1327.27 L840.66,1327.95 L842.35,1328.63 L844.06,1329.29 L845.78,1329.91 L847.51,1330.46 L849.26,1330.93 L851.03,1331.29 L852.81,1331.52 L854.60,1331.60 L855.80,1331.57 L856.98,1331.48 L858.15,1331.35 L859.31,1331.17 L860.45,1330.94 L861.58,1330.68 L862.69,1330.39 L863.78,1330.08 L864.84,1329.74 L865.89,1329.38 L866.91,1329.02 L867.90,1328.65 L868.87,1328.27 L869.81,1327.91 L870.72,1327.55 L871.60,1327.20" stroke="#3a3a3a" stroke-width="1.0" fill="none" stroke-linejoin="round" />
<path d="M809.00,1350.90 L810.13,1350.18 L811.25,1349.43 L812.38,1348.66 L813.51,1347.87 L814.65,1347.08 L815.79,1346.30 L816.93,1345.54 L818.09,1344.81 L819.25,1344.13 L820.42,1343.50 L821.60,1342.93 L822.80,1342.45 L824.00,1342.05 L825.22,1341.75 L826.45,1341.56 L827.70,1341.50 L829.26,1341.58 L830.85,1341.81 L832.44,1342.17 L834.05,1342.64 L835.68,1343.19 L837.33,1343.81 L838.99,1344.47 L840.66,1345.15 L842.35,1345.83 L844.06,1346.49 L845.78,1347.11 L847.51,1347.66 L849.26,1348.13 L851.03,1348.49 L852.81,1348.72 L854.60,1348.80 L855.80,1348.77 L856.98,1348.68 L858.15,1348.55 L859.31,1348.37 L860.45,1348.14 L861.58,1347.88 L862.69,1347.59 L863.78,1347.28 L864.84,1346.94 L865.89,1346.58 L866.91,1346.22 L867.90,1345.85 L868.87,1345.47 L869.81,1345.11 L870.72,1344.75 L871.60,1344.40" stroke="#3a3a3a" stroke-width="1.0" fill="none" stroke-linejoin="round" />
<clipPath id="hC"><path d="M815.20,1346.70 L815.79,1346.30 L816.93,1345.54 L818.09,1344.81 L819.25,1344.13 L820.42,1343.50 L821.60,1342.93 L822.80,1342.45 L824.00,1342.05 L825.22,1341.75 L826.45,1341.56 L827.70,1341.50 L829.26,1341.58 L830.85,1341.81 L832.44,1342.17 L834.05,1342.64 L835.68,1343.19 L837.33,1343.81 L838.99,1344.47 L840.60,1345.12 L840.60,1472.30 L815.20,1472.30Z"/></clipPath>
<g clip-path="url(#hC)"><path d="M790.8,1317.2 L799.9,1326.3 L795.4,1330.9 L786.3,1321.8Z M786.3,1321.8 L790.8,1326.3 L781.7,1335.4 L777.2,1330.9Z M790.8,1326.3 L799.9,1335.4 L795.4,1340.0 L786.3,1330.9Z M786.3,1330.9 L790.8,1335.4 L781.7,1344.5 L777.2,1340.0Z M790.8,1335.4 L799.9,1344.5 L795.4,1349.0 L786.3,1340.0Z M786.3,1340.0 L790.8,1344.5 L781.7,1353.6 L777.2,1349.0Z M790.8,1344.5 L799.9,1353.6 L795.4,1358.1 L786.3,1349.0Z M786.3,1349.0 L790.8,1353.6 L781.7,1362.7 L777.2,1358.1Z M790.8,1353.6 L799.9,1362.7 L795.4,1367.2 L786.3,1358.1Z M786.3,1358.1 L790.8,1362.7 L781.7,1371.8 L777.2,1367.2Z M790.8,1362.7 L799.9,1371.8 L795.4,1376.3 L786.3,1367.2Z M786.3,1367.2 L790.8,1371.8 L781.7,1380.9 L777.2,1376.3Z M790.8,1371.8 L799.9,1380.9 L795.4,1385.4 L786.3,1376.3Z M786.3,1376.3 L790.8,1380.9 L781.7,1390.0 L777.2,1385.4Z M790.8,1380.9 L799.9,1390.0 L795.4,1394.5 L786.3,1385.4Z M786.3,1385.4 L790.8,1390.0 L781.7,1399.1 L777.2,1394.5Z M790.8,1390.0 L799.9,1399.1 L795.4,1403.6 L786.3,1394.5Z M786.3,1394.5 L790.8,1399.1 L781.7,1408.2 L777.2,1403.6Z M790.8,1399.1 L799.9,1408.2 L795.4,1412.7 L786.3,1403.6Z M786.3,1403.6 L790.8,1408.2 L781.7,1417.2 L777.2,1412.7Z M790.8,1408.2 L799.9,1417.2 L795.4,1421.8 L786.3,1412.7Z M786.3,1412.7 L790.8,1417.2 L781.7,1426.3 L777.2,1421.8Z M790.8,1417.2 L799.9,1426.3 L795.4,1430.9 L786.3,1421.8Z M786.3,1421.8 L790.8,1426.3 L781.7,1435.4 L777.2,1430.9Z M790.8,1426.3 L799.9,1435.4 L795.4,1440.0 L786.3,1430.9Z M786.3,1430.9 L790.8,1435.4 L781.7,1444.5 L777.2,1440.0Z M790.8,1435.4 L799.9,1444.5 L795.4,1449.1 L786.3,1440.0Z M786.3,1440.0 L790.8,1444.5 L781.7,1453.6 L777.2,1449.1Z M790.8,1444.5 L799.9,1453.6 L795.4,1458.2 L786.3,1449.1Z M786.3,1449.1 L790.8,1453.6 L781.7,1462.7 L777.2,1458.2Z M790.8,1453.6 L799.9,1462.7 L795.4,1467.3 L786.3,1458.2Z M786.3,1458.2 L790.8,1462.7 L781.7,1471.8 L777.2,1467.3Z M790.8,1462.7 L799.9,1471.8 L795.4,1476.4 L786.3,1467.3Z M786.3,1467.3 L790.8,1471.8 L781.7,1480.9 L777.2,1476.4Z M790.8,1471.8 L799.9,1480.9 L795.4,1485.4 L786.3,1476.4Z M786.3,1476.4 L790.8,1480.9 L781.7,1490.0 L777.2,1485.4Z M790.8,1480.9 L799.9,1490.0 L795.4,1494.5 L786.3,1485.4Z M786.3,1485.4 L790.8,1490.0 L781.7,1499.1 L777.2,1494.5Z M790.8,1490.0 L799.9,1499.1 L795.4,1503.6 L786.3,1494.5Z M786.3,1494.5 L790.8,1499.1 L781.7,1508.2 L777.2,1503.6Z M790.8,1499.1 L799.9,1508.2 L795.4,1512.7 L786.3,1503.6Z M786.3,1503.6 L790.8,1508.2 L781.7,1517.3 L777.2,1512.7Z M809.0,1317.2 L818.1,1326.3 L813.5,1330.9 L804.5,1321.8Z M804.5,1321.8 L809.0,1326.3 L799.9,1335.4 L795.4,1330.9Z M809.0,1326.3 L818.1,1335.4 L813.5,1340.0 L804.5,1330.9Z M804.5,1330.9 L809.0,1335.4 L799.9,1344.5 L795.4,1340.0Z M809.0,1335.4 L818.1,1344.5 L813.5,1349.0 L804.5,1340.0Z M804.5,1340.0 L809.0,1344.5 L799.9,1353.6 L795.4,1349.0Z M809.0,1344.5 L818.1,1353.6 L813.5,1358.1 L804.5,1349.0Z M804.5,1349.0 L809.0,1353.6 L799.9,1362.7 L795.4,1358.1Z M809.0,1353.6 L818.1,1362.7 L813.5,1367.2 L804.5,1358.1Z M804.5,1358.1 L809.0,1362.7 L799.9,1371.8 L795.4,1367.2Z M809.0,1362.7 L818.1,1371.8 L813.5,1376.3 L804.5,1367.2Z M804.5,1367.2 L809.0,1371.8 L799.9,1380.9 L795.4,1376.3Z M809.0,1371.8 L818.1,1380.9 L813.5,1385.4 L804.5,1376.3Z M804.5,1376.3 L809.0,1380.9 L799.9,1390.0 L795.4,1385.4Z M809.0,1380.9 L818.1,1390.0 L813.5,1394.5 L804.5,1385.4Z M804.5,1385.4 L809.0,1390.0 L799.9,1399.1 L795.4,1394.5Z M809.0,1390.0 L818.1,1399.1 L813.5,1403.6 L804.5,1394.5Z M804.5,1394.5 L809.0,1399.1 L799.9,1408.2 L795.4,1403.6Z M809.0,1399.1 L818.1,1408.2 L813.5,1412.7 L804.5,1403.6Z M804.5,1403.6 L809.0,1408.2 L799.9,1417.2 L795.4,1412.7Z M809.0,1408.2 L818.1,1417.2 L813.5,1421.8 L804.5,1412.7Z M804.5,1412.7 L809.0,1417.2 L799.9,1426.3 L795.4,1421.8Z M809.0,1417.2 L818.1,1426.3 L813.5,1430.9 L804.5,1421.8Z M804.5,1421.8 L809.0,1426.3 L799.9,1435.4 L795.4,1430.9Z M809.0,1426.3 L818.1,1435.4 L813.5,1440.0 L804.5,1430.9Z M804.5,1430.9 L809.0,1435.4 L799.9,1444.5 L795.4,1440.0Z M809.0,1435.4 L818.1,1444.5 L813.5,1449.1 L804.5,1440.0Z M804.5,1440.0 L809.0,1444.5 L799.9,1453.6 L795.4,1449.1Z M809.0,1444.5 L818.1,1453.6 L813.5,1458.2 L804.5,1449.1Z M804.5,1449.1 L809.0,1453.6 L799.9,1462.7 L795.4,1458.2Z M809.0,1453.6 L818.1,1462.7 L813.5,1467.3 L804.5,1458.2Z M804.5,1458.2 L809.0,1462.7 L799.9,1471.8 L795.4,1467.3Z M809.0,1462.7 L818.1,1471.8 L813.5,1476.4 L804.5,1467.3Z M804.5,1467.3 L809.0,1471.8 L799.9,1480.9 L795.4,1476.4Z M809.0,1471.8 L818.1,1480.9 L813.5,1485.4 L804.5,1476.4Z M804.5,1476.4 L809.0,1480.9 L799.9,1490.0 L795.4,1485.4Z M809.0,1480.9 L818.1,1490.0 L813.5,1494.5 L804.5,1485.4Z M804.5,1485.4 L809.0,1490.0 L799.9,1499.1 L795.4,1494.5Z M809.0,1490.0 L818.1,1499.1 L813.5,1503.6 L804.5,1494.5Z M804.5,1494.5 L809.0,1499.1 L799.9,1508.2 L795.4,1503.6Z M809.0,1499.1 L818.1,1508.2 L813.5,1512.7 L804.5,1503.6Z M804.5,1503.6 L809.0,1508.2 L799.9,1517.3 L795.4,1512.7Z M827.2,1317.2 L836.3,1326.3 L831.7,1330.9 L822.6,1321.8Z M822.6,1321.8 L827.2,1326.3 L818.1,1335.4 L813.5,1330.9Z M827.2,1326.3 L836.3,1335.4 L831.7,1340.0 L822.6,1330.9Z M822.6,1330.9 L827.2,1335.4 L818.1,1344.5 L813.5,1340.0Z M827.2,1335.4 L836.3,1344.5 L831.7,1349.0 L822.6,1340.0Z M822.6,1340.0 L827.2,1344.5 L818.1,1353.6 L813.5,1349.0Z M827.2,1344.5 L836.3,1353.6 L831.7,1358.1 L822.6,1349.0Z M822.6,1349.0 L827.2,1353.6 L818.1,1362.7 L813.5,1358.1Z M827.2,1353.6 L836.3,1362.7 L831.7,1367.2 L822.6,1358.1Z M822.6,1358.1 L827.2,1362.7 L818.1,1371.8 L813.5,1367.2Z M827.2,1362.7 L836.3,1371.8 L831.7,1376.3 L822.6,1367.2Z M822.6,1367.2 L827.2,1371.8 L818.1,1380.9 L813.5,1376.3Z M827.2,1371.8 L836.3,1380.9 L831.7,1385.4 L822.6,1376.3Z M822.6,1376.3 L827.2,1380.9 L818.1,1390.0 L813.5,1385.4Z M827.2,1380.9 L836.3,1390.0 L831.7,1394.5 L822.6,1385.4Z M822.6,1385.4 L827.2,1390.0 L818.1,1399.1 L813.5,1394.5Z M827.2,1390.0 L836.3,1399.1 L831.7,1403.6 L822.6,1394.5Z M822.6,1394.5 L827.2,1399.1 L818.1,1408.2 L813.5,1403.6Z M827.2,1399.1 L836.3,1408.2 L831.7,1412.7 L822.6,1403.6Z M822.6,1403.6 L827.2,1408.2 L818.1,1417.2 L813.5,1412.7Z M827.2,1408.2 L836.3,1417.2 L831.7,1421.8 L822.6,1412.7Z M822.6,1412.7 L827.2,1417.2 L818.1,1426.3 L813.5,1421.8Z M827.2,1417.2 L836.3,1426.3 L831.7,1430.9 L822.6,1421.8Z M822.6,1421.8 L827.2,1426.3 L818.1,1435.4 L813.5,1430.9Z M827.2,1426.3 L836.3,1435.4 L831.7,1440.0 L822.6,1430.9Z M822.6,1430.9 L827.2,1435.4 L818.1,1444.5 L813.5,1440.0Z M827.2,1435.4 L836.3,1444.5 L831.7,1449.1 L822.6,1440.0Z M822.6,1440.0 L827.2,1444.5 L818.1,1453.6 L813.5,1449.1Z M827.2,1444.5 L836.3,1453.6 L831.7,1458.2 L822.6,1449.1Z M822.6,1449.1 L827.2,1453.6 L818.1,1462.7 L813.5,1458.2Z M827.2,1453.6 L836.3,1462.7 L831.7,1467.3 L822.6,1458.2Z M822.6,1458.2 L827.2,1462.7 L818.1,1471.8 L813.5,1467.3Z M827.2,1462.7 L836.3,1471.8 L831.7,1476.4 L822.6,1467.3Z M822.6,1467.3 L827.2,1471.8 L818.1,1480.9 L813.5,1476.4Z M827.2,1471.8 L836.3,1480.9 L831.7,1485.4 L822.6,1476.4Z M822.6,1476.4 L827.2,1480.9 L818.1,1490.0 L813.5,1485.4Z M827.2,1480.9 L836.3,1490.0 L831.7,1494.5 L822.6,1485.4Z M822.6,1485.4 L827.2,1490.0 L818.1,1499.1 L813.5,1494.5Z M827.2,1490.0 L836.3,1499.1 L831.7,1503.6 L822.6,1494.5Z M822.6,1494.5 L827.2,1499.1 L818.1,1508.2 L813.5,1503.6Z M827.2,1499.1 L836.3,1508.2 L831.7,1512.7 L822.6,1503.6Z M822.6,1503.6 L827.2,1508.2 L818.1,1517.3 L813.5,1512.7Z M845.4,1317.2 L854.5,1326.3 L849.9,1330.9 L840.8,1321.8Z M840.8,1321.8 L845.4,1326.3 L836.3,1335.4 L831.7,1330.9Z M845.4,1326.3 L854.5,1335.4 L849.9,1340.0 L840.8,1330.9Z M840.8,1330.9 L845.4,1335.4 L836.3,1344.5 L831.7,1340.0Z M845.4,1335.4 L854.5,1344.5 L849.9,1349.0 L840.8,1340.0Z M840.8,1340.0 L845.4,1344.5 L836.3,1353.6 L831.7,1349.0Z M845.4,1344.5 L854.5,1353.6 L849.9,1358.1 L840.8,1349.0Z M840.8,1349.0 L845.4,1353.6 L836.3,1362.7 L831.7,1358.1Z M845.4,1353.6 L854.5,1362.7 L849.9,1367.2 L840.8,1358.1Z M840.8,1358.1 L845.4,1362.7 L836.3,1371.8 L831.7,1367.2Z M845.4,1362.7 L854.5,1371.8 L849.9,1376.3 L840.8,1367.2Z M840.8,1367.2 L845.4,1371.8 L836.3,1380.9 L831.7,1376.3Z M845.4,1371.8 L854.5,1380.9 L849.9,1385.4 L840.8,1376.3Z M840.8,1376.3 L845.4,1380.9 L836.3,1390.0 L831.7,1385.4Z M845.4,1380.9 L854.5,1390.0 L849.9,1394.5 L840.8,1385.4Z M840.8,1385.4 L845.4,1390.0 L836.3,1399.1 L831.7,1394.5Z M845.4,1390.0 L854.5,1399.1 L849.9,1403.6 L840.8,1394.5Z M840.8,1394.5 L845.4,1399.1 L836.3,1408.2 L831.7,1403.6Z M845.4,1399.1 L854.5,1408.2 L849.9,1412.7 L840.8,1403.6Z M840.8,1403.6 L845.4,1408.2 L836.3,1417.2 L831.7,1412.7Z M845.4,1408.2 L854.5,1417.2 L849.9,1421.8 L840.8,1412.7Z M840.8,1412.7 L845.4,1417.2 L836.3,1426.3 L831.7,1421.8Z M845.4,1417.2 L854.5,1426.3 L849.9,1430.9 L840.8,1421.8Z M840.8,1421.8 L845.4,1426.3 L836.3,1435.4 L831.7,1430.9Z M845.4,1426.3 L854.5,1435.4 L849.9,1440.0 L840.8,1430.9Z M840.8,1430.9 L845.4,1435.4 L836.3,1444.5 L831.7,1440.0Z M845.4,1435.4 L854.5,1444.5 L849.9,1449.1 L840.8,1440.0Z M840.8,1440.0 L845.4,1444.5 L836.3,1453.6 L831.7,1449.1Z M845.4,1444.5 L854.5,1453.6 L849.9,1458.2 L840.8,1449.1Z M840.8,1449.1 L845.4,1453.6 L836.3,1462.7 L831.7,1458.2Z M845.4,1453.6 L854.5,1462.7 L849.9,1467.3 L840.8,1458.2Z M840.8,1458.2 L845.4,1462.7 L836.3,1471.8 L831.7,1467.3Z M845.4,1462.7 L854.5,1471.8 L849.9,1476.4 L840.8,1467.3Z M840.8,1467.3 L845.4,1471.8 L836.3,1480.9 L831.7,1476.4Z M845.4,1471.8 L854.5,1480.9 L849.9,1485.4 L840.8,1476.4Z M840.8,1476.4 L845.4,1480.9 L836.3,1490.0 L831.7,1485.4Z M845.4,1480.9 L854.5,1490.0 L849.9,1494.5 L840.8,1485.4Z M840.8,1485.4 L845.4,1490.0 L836.3,1499.1 L831.7,1494.5Z M845.4,1490.0 L854.5,1499.1 L849.9,1503.6 L840.8,1494.5Z M840.8,1494.5 L845.4,1499.1 L836.3,1508.2 L831.7,1503.6Z M845.4,1499.1 L854.5,1508.2 L849.9,1512.7 L840.8,1503.6Z M840.8,1503.6 L845.4,1508.2 L836.3,1517.3 L831.7,1512.7Z M863.6,1317.2 L872.7,1326.3 L868.1,1330.9 L859.0,1321.8Z M859.0,1321.8 L863.6,1326.3 L854.5,1335.4 L849.9,1330.9Z M863.6,1326.3 L872.7,1335.4 L868.1,1340.0 L859.0,1330.9Z M859.0,1330.9 L863.6,1335.4 L854.5,1344.5 L849.9,1340.0Z M863.6,1335.4 L872.7,1344.5 L868.1,1349.0 L859.0,1340.0Z M859.0,1340.0 L863.6,1344.5 L854.5,1353.6 L849.9,1349.0Z M863.6,1344.5 L872.7,1353.6 L868.1,1358.1 L859.0,1349.0Z M859.0,1349.0 L863.6,1353.6 L854.5,1362.7 L849.9,1358.1Z M863.6,1353.6 L872.7,1362.7 L868.1,1367.2 L859.0,1358.1Z M859.0,1358.1 L863.6,1362.7 L854.5,1371.8 L849.9,1367.2Z M863.6,1362.7 L872.7,1371.8 L868.1,1376.3 L859.0,1367.2Z M859.0,1367.2 L863.6,1371.8 L854.5,1380.9 L849.9,1376.3Z M863.6,1371.8 L872.7,1380.9 L868.1,1385.4 L859.0,1376.3Z M859.0,1376.3 L863.6,1380.9 L854.5,1390.0 L849.9,1385.4Z M863.6,1380.9 L872.7,1390.0 L868.1,1394.5 L859.0,1385.4Z M859.0,1385.4 L863.6,1390.0 L854.5,1399.1 L849.9,1394.5Z M863.6,1390.0 L872.7,1399.1 L868.1,1403.6 L859.0,1394.5Z M859.0,1394.5 L863.6,1399.1 L854.5,1408.2 L849.9,1403.6Z M863.6,1399.1 L872.7,1408.2 L868.1,1412.7 L859.0,1403.6Z M859.0,1403.6 L863.6,1408.2 L854.5,1417.2 L849.9,1412.7Z M863.6,1408.2 L872.7,1417.2 L868.1,1421.8 L859.0,1412.7Z M859.0,1412.7 L863.6,1417.2 L854.5,1426.3 L849.9,1421.8Z M863.6,1417.2 L872.7,1426.3 L868.1,1430.9 L859.0,1421.8Z M859.0,1421.8 L863.6,1426.3 L854.5,1435.4 L849.9,1430.9Z M863.6,1426.3 L872.7,1435.4 L868.1,1440.0 L859.0,1430.9Z M859.0,1430.9 L863.6,1435.4 L854.5,1444.5 L849.9,1440.0Z M863.6,1435.4 L872.7,1444.5 L868.1,1449.1 L859.0,1440.0Z M859.0,1440.0 L863.6,1444.5 L854.5,1453.6 L849.9,1449.1Z M863.6,1444.5 L872.7,1453.6 L868.1,1458.2 L859.0,1449.1Z M859.0,1449.1 L863.6,1453.6 L854.5,1462.7 L849.9,1458.2Z M863.6,1453.6 L872.7,1462.7 L868.1,1467.3 L859.0,1458.2Z M859.0,1458.2 L863.6,1462.7 L854.5,1471.8 L849.9,1467.3Z M863.6,1462.7 L872.7,1471.8 L868.1,1476.4 L859.0,1467.3Z M859.0,1467.3 L863.6,1471.8 L854.5,1480.9 L849.9,1476.4Z M863.6,1471.8 L872.7,1480.9 L868.1,1485.4 L859.0,1476.4Z M859.0,1476.4 L863.6,1480.9 L854.5,1490.0 L849.9,1485.4Z M863.6,1480.9 L872.7,1490.0 L868.1,1494.5 L859.0,1485.4Z M859.0,1485.4 L863.6,1490.0 L854.5,1499.1 L849.9,1494.5Z M863.6,1490.0 L872.7,1499.1 L868.1,1503.6 L859.0,1494.5Z M859.0,1494.5 L863.6,1499.1 L854.5,1508.2 L849.9,1503.6Z M863.6,1499.1 L872.7,1508.2 L868.1,1512.7 L859.0,1503.6Z M859.0,1503.6 L863.6,1508.2 L854.5,1517.3 L849.9,1512.7Z" fill="none" stroke="#333" stroke-width="1.0"/></g>
<path d="M815.2,1346.70 L815.2,1472.3 M840.6,1345.12 L840.6,1472.3" stroke="#3a3a3a" stroke-width="1.1" fill="none" stroke-linejoin="round" />
<clipPath id="hD"><path d="M840.60,1345.12 L840.66,1345.15 L842.35,1345.83 L844.06,1346.49 L845.78,1347.11 L847.51,1347.66 L849.26,1348.13 L851.03,1348.49 L852.81,1348.72 L854.60,1348.80 L855.80,1348.77 L856.98,1348.68 L858.15,1348.55 L859.31,1348.37 L860.45,1348.14 L861.58,1347.88 L862.69,1347.59 L863.78,1347.28 L863.80,1347.27 L865.20,1374.00 L866.00,1381.00 L867.60,1388.00 L880.60,1437.40 L852.20,1442.40 L842.60,1393.00 L841.30,1386.00 L840.90,1380.00Z"/></clipPath>
<g clip-path="url(#hD)"><path transform="rotate(-9 852 1350)" d="M798.3,1308.1 L807.4,1317.2 L802.9,1321.8 L793.8,1312.7Z M793.8,1312.7 L798.3,1317.2 L789.2,1326.3 L784.7,1321.8Z M798.3,1317.2 L807.4,1326.3 L802.9,1330.9 L793.8,1321.8Z M793.8,1321.8 L798.3,1326.3 L789.2,1335.4 L784.7,1330.9Z M798.3,1326.3 L807.4,1335.4 L802.9,1340.0 L793.8,1330.9Z M793.8,1330.9 L798.3,1335.4 L789.2,1344.5 L784.7,1340.0Z M798.3,1335.4 L807.4,1344.5 L802.9,1349.0 L793.8,1340.0Z M793.8,1340.0 L798.3,1344.5 L789.2,1353.6 L784.7,1349.0Z M798.3,1344.5 L807.4,1353.6 L802.9,1358.1 L793.8,1349.0Z M793.8,1349.0 L798.3,1353.6 L789.2,1362.7 L784.7,1358.1Z M798.3,1353.6 L807.4,1362.7 L802.9,1367.2 L793.8,1358.1Z M793.8,1358.1 L798.3,1362.7 L789.2,1371.8 L784.7,1367.2Z M798.3,1362.7 L807.4,1371.8 L802.9,1376.3 L793.8,1367.2Z M793.8,1367.2 L798.3,1371.8 L789.2,1380.9 L784.7,1376.3Z M798.3,1371.8 L807.4,1380.9 L802.9,1385.4 L793.8,1376.3Z M793.8,1376.3 L798.3,1380.9 L789.2,1390.0 L784.7,1385.4Z M798.3,1380.9 L807.4,1390.0 L802.9,1394.5 L793.8,1385.4Z M793.8,1385.4 L798.3,1390.0 L789.2,1399.1 L784.7,1394.5Z M798.3,1390.0 L807.4,1399.1 L802.9,1403.6 L793.8,1394.5Z M793.8,1394.5 L798.3,1399.1 L789.2,1408.2 L784.7,1403.6Z M798.3,1399.1 L807.4,1408.2 L802.9,1412.7 L793.8,1403.6Z M793.8,1403.6 L798.3,1408.2 L789.2,1417.2 L784.7,1412.7Z M798.3,1408.2 L807.4,1417.2 L802.9,1421.8 L793.8,1412.7Z M793.8,1412.7 L798.3,1417.2 L789.2,1426.3 L784.7,1421.8Z M798.3,1417.2 L807.4,1426.3 L802.9,1430.9 L793.8,1421.8Z M793.8,1421.8 L798.3,1426.3 L789.2,1435.4 L784.7,1430.9Z M798.3,1426.3 L807.4,1435.4 L802.9,1440.0 L793.8,1430.9Z M793.8,1430.9 L798.3,1435.4 L789.2,1444.5 L784.7,1440.0Z M798.3,1435.4 L807.4,1444.5 L802.9,1449.1 L793.8,1440.0Z M793.8,1440.0 L798.3,1444.5 L789.2,1453.6 L784.7,1449.1Z M798.3,1444.5 L807.4,1453.6 L802.9,1458.2 L793.8,1449.1Z M793.8,1449.1 L798.3,1453.6 L789.2,1462.7 L784.7,1458.2Z M798.3,1453.6 L807.4,1462.7 L802.9,1467.3 L793.8,1458.2Z M793.8,1458.2 L798.3,1462.7 L789.2,1471.8 L784.7,1467.3Z M798.3,1462.7 L807.4,1471.8 L802.9,1476.4 L793.8,1467.3Z M793.8,1467.3 L798.3,1471.8 L789.2,1480.9 L784.7,1476.4Z M798.3,1471.8 L807.4,1480.9 L802.9,1485.4 L793.8,1476.4Z M793.8,1476.4 L798.3,1480.9 L789.2,1490.0 L784.7,1485.4Z M816.5,1308.1 L825.6,1317.2 L821.1,1321.8 L812.0,1312.7Z M812.0,1312.7 L816.5,1317.2 L807.4,1326.3 L802.9,1321.8Z M816.5,1317.2 L825.6,1326.3 L821.1,1330.9 L812.0,1321.8Z M812.0,1321.8 L816.5,1326.3 L807.4,1335.4 L802.9,1330.9Z M816.5,1326.3 L825.6,1335.4 L821.1,1340.0 L812.0,1330.9Z M812.0,1330.9 L816.5,1335.4 L807.4,1344.5 L802.9,1340.0Z M816.5,1335.4 L825.6,1344.5 L821.1,1349.0 L812.0,1340.0Z M812.0,1340.0 L816.5,1344.5 L807.4,1353.6 L802.9,1349.0Z M816.5,1344.5 L825.6,1353.6 L821.1,1358.1 L812.0,1349.0Z M812.0,1349.0 L816.5,1353.6 L807.4,1362.7 L802.9,1358.1Z M816.5,1353.6 L825.6,1362.7 L821.1,1367.2 L812.0,1358.1Z M812.0,1358.1 L816.5,1362.7 L807.4,1371.8 L802.9,1367.2Z M816.5,1362.7 L825.6,1371.8 L821.1,1376.3 L812.0,1367.2Z M812.0,1367.2 L816.5,1371.8 L807.4,1380.9 L802.9,1376.3Z M816.5,1371.8 L825.6,1380.9 L821.1,1385.4 L812.0,1376.3Z M812.0,1376.3 L816.5,1380.9 L807.4,1390.0 L802.9,1385.4Z M816.5,1380.9 L825.6,1390.0 L821.1,1394.5 L812.0,1385.4Z M812.0,1385.4 L816.5,1390.0 L807.4,1399.1 L802.9,1394.5Z M816.5,1390.0 L825.6,1399.1 L821.1,1403.6 L812.0,1394.5Z M812.0,1394.5 L816.5,1399.1 L807.4,1408.2 L802.9,1403.6Z M816.5,1399.1 L825.6,1408.2 L821.1,1412.7 L812.0,1403.6Z M812.0,1403.6 L816.5,1408.2 L807.4,1417.2 L802.9,1412.7Z M816.5,1408.2 L825.6,1417.2 L821.1,1421.8 L812.0,1412.7Z M812.0,1412.7 L816.5,1417.2 L807.4,1426.3 L802.9,1421.8Z M816.5,1417.2 L825.6,1426.3 L821.1,1430.9 L812.0,1421.8Z M812.0,1421.8 L816.5,1426.3 L807.4,1435.4 L802.9,1430.9Z M816.5,1426.3 L825.6,1435.4 L821.1,1440.0 L812.0,1430.9Z M812.0,1430.9 L816.5,1435.4 L807.4,1444.5 L802.9,1440.0Z M816.5,1435.4 L825.6,1444.5 L821.1,1449.1 L812.0,1440.0Z M812.0,1440.0 L816.5,1444.5 L807.4,1453.6 L802.9,1449.1Z M816.5,1444.5 L825.6,1453.6 L821.1,1458.2 L812.0,1449.1Z M812.0,1449.1 L816.5,1453.6 L807.4,1462.7 L802.9,1458.2Z M816.5,1453.6 L825.6,1462.7 L821.1,1467.3 L812.0,1458.2Z M812.0,1458.2 L816.5,1462.7 L807.4,1471.8 L802.9,1467.3Z M816.5,1462.7 L825.6,1471.8 L821.1,1476.4 L812.0,1467.3Z M812.0,1467.3 L816.5,1471.8 L807.4,1480.9 L802.9,1476.4Z M816.5,1471.8 L825.6,1480.9 L821.1,1485.4 L812.0,1476.4Z M812.0,1476.4 L816.5,1480.9 L807.4,1490.0 L802.9,1485.4Z M834.7,1308.1 L843.8,1317.2 L839.2,1321.8 L830.2,1312.7Z M830.2,1312.7 L834.7,1317.2 L825.6,1326.3 L821.1,1321.8Z M834.7,1317.2 L843.8,1326.3 L839.2,1330.9 L830.2,1321.8Z M830.2,1321.8 L834.7,1326.3 L825.6,1335.4 L821.1,1330.9Z M834.7,1326.3 L843.8,1335.4 L839.2,1340.0 L830.2,1330.9Z M830.2,1330.9 L834.7,1335.4 L825.6,1344.5 L821.1,1340.0Z M834.7,1335.4 L843.8,1344.5 L839.2,1349.0 L830.2,1340.0Z M830.2,1340.0 L834.7,1344.5 L825.6,1353.6 L821.1,1349.0Z M834.7,1344.5 L843.8,1353.6 L839.2,1358.1 L830.2,1349.0Z M830.2,1349.0 L834.7,1353.6 L825.6,1362.7 L821.1,1358.1Z M834.7,1353.6 L843.8,1362.7 L839.2,1367.2 L830.2,1358.1Z M830.2,1358.1 L834.7,1362.7 L825.6,1371.8 L821.1,1367.2Z M834.7,1362.7 L843.8,1371.8 L839.2,1376.3 L830.2,1367.2Z M830.2,1367.2 L834.7,1371.8 L825.6,1380.9 L821.1,1376.3Z M834.7,1371.8 L843.8,1380.9 L839.2,1385.4 L830.2,1376.3Z M830.2,1376.3 L834.7,1380.9 L825.6,1390.0 L821.1,1385.4Z M834.7,1380.9 L843.8,1390.0 L839.2,1394.5 L830.2,1385.4Z M830.2,1385.4 L834.7,1390.0 L825.6,1399.1 L821.1,1394.5Z M834.7,1390.0 L843.8,1399.1 L839.2,1403.6 L830.2,1394.5Z M830.2,1394.5 L834.7,1399.1 L825.6,1408.2 L821.1,1403.6Z M834.7,1399.1 L843.8,1408.2 L839.2,1412.7 L830.2,1403.6Z M830.2,1403.6 L834.7,1408.2 L825.6,1417.2 L821.1,1412.7Z M834.7,1408.2 L843.8,1417.2 L839.2,1421.8 L830.2,1412.7Z M830.2,1412.7 L834.7,1417.2 L825.6,1426.3 L821.1,1421.8Z M834.7,1417.2 L843.8,1426.3 L839.2,1430.9 L830.2,1421.8Z M830.2,1421.8 L834.7,1426.3 L825.6,1435.4 L821.1,1430.9Z M834.7,1426.3 L843.8,1435.4 L839.2,1440.0 L830.2,1430.9Z M830.2,1430.9 L834.7,1435.4 L825.6,1444.5 L821.1,1440.0Z M834.7,1435.4 L843.8,1444.5 L839.2,1449.1 L830.2,1440.0Z M830.2,1440.0 L834.7,1444.5 L825.6,1453.6 L821.1,1449.1Z M834.7,1444.5 L843.8,1453.6 L839.2,1458.2 L830.2,1449.1Z M830.2,1449.1 L834.7,1453.6 L825.6,1462.7 L821.1,1458.2Z M834.7,1453.6 L843.8,1462.7 L839.2,1467.3 L830.2,1458.2Z M830.2,1458.2 L834.7,1462.7 L825.6,1471.8 L821.1,1467.3Z M834.7,1462.7 L843.8,1471.8 L839.2,1476.4 L830.2,1467.3Z M830.2,1467.3 L834.7,1471.8 L825.6,1480.9 L821.1,1476.4Z M834.7,1471.8 L843.8,1480.9 L839.2,1485.4 L830.2,1476.4Z M830.2,1476.4 L834.7,1480.9 L825.6,1490.0 L821.1,1485.4Z M852.9,1308.1 L862.0,1317.2 L857.4,1321.8 L848.3,1312.7Z M848.3,1312.7 L852.9,1317.2 L843.8,1326.3 L839.2,1321.8Z M852.9,1317.2 L862.0,1326.3 L857.4,1330.9 L848.3,1321.8Z M848.3,1321.8 L852.9,1326.3 L843.8,1335.4 L839.2,1330.9Z M852.9,1326.3 L862.0,1335.4 L857.4,1340.0 L848.3,1330.9Z M848.3,1330.9 L852.9,1335.4 L843.8,1344.5 L839.2,1340.0Z M852.9,1335.4 L862.0,1344.5 L857.4,1349.0 L848.3,1340.0Z M848.3,1340.0 L852.9,1344.5 L843.8,1353.6 L839.2,1349.0Z M852.9,1344.5 L862.0,1353.6 L857.4,1358.1 L848.3,1349.0Z M848.3,1349.0 L852.9,1353.6 L843.8,1362.7 L839.2,1358.1Z M852.9,1353.6 L862.0,1362.7 L857.4,1367.2 L848.3,1358.1Z M848.3,1358.1 L852.9,1362.7 L843.8,1371.8 L839.2,1367.2Z M852.9,1362.7 L862.0,1371.8 L857.4,1376.3 L848.3,1367.2Z M848.3,1367.2 L852.9,1371.8 L843.8,1380.9 L839.2,1376.3Z M852.9,1371.8 L862.0,1380.9 L857.4,1385.4 L848.3,1376.3Z M848.3,1376.3 L852.9,1380.9 L843.8,1390.0 L839.2,1385.4Z M852.9,1380.9 L862.0,1390.0 L857.4,1394.5 L848.3,1385.4Z M848.3,1385.4 L852.9,1390.0 L843.8,1399.1 L839.2,1394.5Z M852.9,1390.0 L862.0,1399.1 L857.4,1403.6 L848.3,1394.5Z M848.3,1394.5 L852.9,1399.1 L843.8,1408.2 L839.2,1403.6Z M852.9,1399.1 L862.0,1408.2 L857.4,1412.7 L848.3,1403.6Z M848.3,1403.6 L852.9,1408.2 L843.8,1417.2 L839.2,1412.7Z M852.9,1408.2 L862.0,1417.2 L857.4,1421.8 L848.3,1412.7Z M848.3,1412.7 L852.9,1417.2 L843.8,1426.3 L839.2,1421.8Z M852.9,1417.2 L862.0,1426.3 L857.4,1430.9 L848.3,1421.8Z M848.3,1421.8 L852.9,1426.3 L843.8,1435.4 L839.2,1430.9Z M852.9,1426.3 L862.0,1435.4 L857.4,1440.0 L848.3,1430.9Z M848.3,1430.9 L852.9,1435.4 L843.8,1444.5 L839.2,1440.0Z M852.9,1435.4 L862.0,1444.5 L857.4,1449.1 L848.3,1440.0Z M848.3,1440.0 L852.9,1444.5 L843.8,1453.6 L839.2,1449.1Z M852.9,1444.5 L862.0,1453.6 L857.4,1458.2 L848.3,1449.1Z M848.3,1449.1 L852.9,1453.6 L843.8,1462.7 L839.2,1458.2Z M852.9,1453.6 L862.0,1462.7 L857.4,1467.3 L848.3,1458.2Z M848.3,1458.2 L852.9,1462.7 L843.8,1471.8 L839.2,1467.3Z M852.9,1462.7 L862.0,1471.8 L857.4,1476.4 L848.3,1467.3Z M848.3,1467.3 L852.9,1471.8 L843.8,1480.9 L839.2,1476.4Z M852.9,1471.8 L862.0,1480.9 L857.4,1485.4 L848.3,1476.4Z M848.3,1476.4 L852.9,1480.9 L843.8,1490.0 L839.2,1485.4Z M871.1,1308.1 L880.2,1317.2 L875.6,1321.8 L866.5,1312.7Z M866.5,1312.7 L871.1,1317.2 L862.0,1326.3 L857.4,1321.8Z M871.1,1317.2 L880.2,1326.3 L875.6,1330.9 L866.5,1321.8Z M866.5,1321.8 L871.1,1326.3 L862.0,1335.4 L857.4,1330.9Z M871.1,1326.3 L880.2,1335.4 L875.6,1340.0 L866.5,1330.9Z M866.5,1330.9 L871.1,1335.4 L862.0,1344.5 L857.4,1340.0Z M871.1,1335.4 L880.2,1344.5 L875.6,1349.0 L866.5,1340.0Z M866.5,1340.0 L871.1,1344.5 L862.0,1353.6 L857.4,1349.0Z M871.1,1344.5 L880.2,1353.6 L875.6,1358.1 L866.5,1349.0Z M866.5,1349.0 L871.1,1353.6 L862.0,1362.7 L857.4,1358.1Z M871.1,1353.6 L880.2,1362.7 L875.6,1367.2 L866.5,1358.1Z M866.5,1358.1 L871.1,1362.7 L862.0,1371.8 L857.4,1367.2Z M871.1,1362.7 L880.2,1371.8 L875.6,1376.3 L866.5,1367.2Z M866.5,1367.2 L871.1,1371.8 L862.0,1380.9 L857.4,1376.3Z M871.1,1371.8 L880.2,1380.9 L875.6,1385.4 L866.5,1376.3Z M866.5,1376.3 L871.1,1380.9 L862.0,1390.0 L857.4,1385.4Z M871.1,1380.9 L880.2,1390.0 L875.6,1394.5 L866.5,1385.4Z M866.5,1385.4 L871.1,1390.0 L862.0,1399.1 L857.4,1394.5Z M871.1,1390.0 L880.2,1399.1 L875.6,1403.6 L866.5,1394.5Z M866.5,1394.5 L871.1,1399.1 L862.0,1408.2 L857.4,1403.6Z M871.1,1399.1 L880.2,1408.2 L875.6,1412.7 L866.5,1403.6Z M866.5,1403.6 L871.1,1408.2 L862.0,1417.2 L857.4,1412.7Z M871.1,1408.2 L880.2,1417.2 L875.6,1421.8 L866.5,1412.7Z M866.5,1412.7 L871.1,1417.2 L862.0,1426.3 L857.4,1421.8Z M871.1,1417.2 L880.2,1426.3 L875.6,1430.9 L866.5,1421.8Z M866.5,1421.8 L871.1,1426.3 L862.0,1435.4 L857.4,1430.9Z M871.1,1426.3 L880.2,1435.4 L875.6,1440.0 L866.5,1430.9Z M866.5,1430.9 L871.1,1435.4 L862.0,1444.5 L857.4,1440.0Z M871.1,1435.4 L880.2,1444.5 L875.6,1449.1 L866.5,1440.0Z M866.5,1440.0 L871.1,1444.5 L862.0,1453.6 L857.4,1449.1Z M871.1,1444.5 L880.2,1453.6 L875.6,1458.2 L866.5,1449.1Z M866.5,1449.1 L871.1,1453.6 L862.0,1462.7 L857.4,1458.2Z M871.1,1453.6 L880.2,1462.7 L875.6,1467.3 L866.5,1458.2Z M866.5,1458.2 L871.1,1462.7 L862.0,1471.8 L857.4,1467.3Z M871.1,1462.7 L880.2,1471.8 L875.6,1476.4 L866.5,1467.3Z M866.5,1467.3 L871.1,1471.8 L862.0,1480.9 L857.4,1476.4Z M871.1,1471.8 L880.2,1480.9 L875.6,1485.4 L866.5,1476.4Z M866.5,1476.4 L871.1,1480.9 L862.0,1490.0 L857.4,1485.4Z M889.3,1308.1 L898.4,1317.2 L893.8,1321.8 L884.7,1312.7Z M884.7,1312.7 L889.3,1317.2 L880.2,1326.3 L875.6,1321.8Z M889.3,1317.2 L898.4,1326.3 L893.8,1330.9 L884.7,1321.8Z M884.7,1321.8 L889.3,1326.3 L880.2,1335.4 L875.6,1330.9Z M889.3,1326.3 L898.4,1335.4 L893.8,1340.0 L884.7,1330.9Z M884.7,1330.9 L889.3,1335.4 L880.2,1344.5 L875.6,1340.0Z M889.3,1335.4 L898.4,1344.5 L893.8,1349.0 L884.7,1340.0Z M884.7,1340.0 L889.3,1344.5 L880.2,1353.6 L875.6,1349.0Z M889.3,1344.5 L898.4,1353.6 L893.8,1358.1 L884.7,1349.0Z M884.7,1349.0 L889.3,1353.6 L880.2,1362.7 L875.6,1358.1Z M889.3,1353.6 L898.4,1362.7 L893.8,1367.2 L884.7,1358.1Z M884.7,1358.1 L889.3,1362.7 L880.2,1371.8 L875.6,1367.2Z M889.3,1362.7 L898.4,1371.8 L893.8,1376.3 L884.7,1367.2Z M884.7,1367.2 L889.3,1371.8 L880.2,1380.9 L875.6,1376.3Z M889.3,1371.8 L898.4,1380.9 L893.8,1385.4 L884.7,1376.3Z M884.7,1376.3 L889.3,1380.9 L880.2,1390.0 L875.6,1385.4Z M889.3,1380.9 L898.4,1390.0 L893.8,1394.5 L884.7,1385.4Z M884.7,1385.4 L889.3,1390.0 L880.2,1399.1 L875.6,1394.5Z M889.3,1390.0 L898.4,1399.1 L893.8,1403.6 L884.7,1394.5Z M884.7,1394.5 L889.3,1399.1 L880.2,1408.2 L875.6,1403.6Z M889.3,1399.1 L898.4,1408.2 L893.8,1412.7 L884.7,1403.6Z M884.7,1403.6 L889.3,1408.2 L880.2,1417.2 L875.6,1412.7Z M889.3,1408.2 L898.4,1417.2 L893.8,1421.8 L884.7,1412.7Z M884.7,1412.7 L889.3,1417.2 L880.2,1426.3 L875.6,1421.8Z M889.3,1417.2 L898.4,1426.3 L893.8,1430.9 L884.7,1421.8Z M884.7,1421.8 L889.3,1426.3 L880.2,1435.4 L875.6,1430.9Z M889.3,1426.3 L898.4,1435.4 L893.8,1440.0 L884.7,1430.9Z M884.7,1430.9 L889.3,1435.4 L880.2,1444.5 L875.6,1440.0Z M889.3,1435.4 L898.4,1444.5 L893.8,1449.1 L884.7,1440.0Z M884.7,1440.0 L889.3,1444.5 L880.2,1453.6 L875.6,1449.1Z M889.3,1444.5 L898.4,1453.6 L893.8,1458.2 L884.7,1449.1Z M884.7,1449.1 L889.3,1453.6 L880.2,1462.7 L875.6,1458.2Z M889.3,1453.6 L898.4,1462.7 L893.8,1467.3 L884.7,1458.2Z M884.7,1458.2 L889.3,1462.7 L880.2,1471.8 L875.6,1467.3Z M889.3,1462.7 L898.4,1471.8 L893.8,1476.4 L884.7,1467.3Z M884.7,1467.3 L889.3,1471.8 L880.2,1480.9 L875.6,1476.4Z M889.3,1471.8 L898.4,1480.9 L893.8,1485.4 L884.7,1476.4Z M884.7,1476.4 L889.3,1480.9 L880.2,1490.0 L875.6,1485.4Z M907.4,1308.1 L916.5,1317.2 L912.0,1321.8 L902.9,1312.7Z M902.9,1312.7 L907.4,1317.2 L898.4,1326.3 L893.8,1321.8Z M907.4,1317.2 L916.5,1326.3 L912.0,1330.9 L902.9,1321.8Z M902.9,1321.8 L907.4,1326.3 L898.4,1335.4 L893.8,1330.9Z M907.4,1326.3 L916.5,1335.4 L912.0,1340.0 L902.9,1330.9Z M902.9,1330.9 L907.4,1335.4 L898.4,1344.5 L893.8,1340.0Z M907.4,1335.4 L916.5,1344.5 L912.0,1349.0 L902.9,1340.0Z M902.9,1340.0 L907.4,1344.5 L898.4,1353.6 L893.8,1349.0Z M907.4,1344.5 L916.5,1353.6 L912.0,1358.1 L902.9,1349.0Z M902.9,1349.0 L907.4,1353.6 L898.4,1362.7 L893.8,1358.1Z M907.4,1353.6 L916.5,1362.7 L912.0,1367.2 L902.9,1358.1Z M902.9,1358.1 L907.4,1362.7 L898.4,1371.8 L893.8,1367.2Z M907.4,1362.7 L916.5,1371.8 L912.0,1376.3 L902.9,1367.2Z M902.9,1367.2 L907.4,1371.8 L898.4,1380.9 L893.8,1376.3Z M907.4,1371.8 L916.5,1380.9 L912.0,1385.4 L902.9,1376.3Z M902.9,1376.3 L907.4,1380.9 L898.4,1390.0 L893.8,1385.4Z M907.4,1380.9 L916.5,1390.0 L912.0,1394.5 L902.9,1385.4Z M902.9,1385.4 L907.4,1390.0 L898.4,1399.1 L893.8,1394.5Z M907.4,1390.0 L916.5,1399.1 L912.0,1403.6 L902.9,1394.5Z M902.9,1394.5 L907.4,1399.1 L898.4,1408.2 L893.8,1403.6Z M907.4,1399.1 L916.5,1408.2 L912.0,1412.7 L902.9,1403.6Z M902.9,1403.6 L907.4,1408.2 L898.4,1417.2 L893.8,1412.7Z M907.4,1408.2 L916.5,1417.2 L912.0,1421.8 L902.9,1412.7Z M902.9,1412.7 L907.4,1417.2 L898.4,1426.3 L893.8,1421.8Z M907.4,1417.2 L916.5,1426.3 L912.0,1430.9 L902.9,1421.8Z M902.9,1421.8 L907.4,1426.3 L898.4,1435.4 L893.8,1430.9Z M907.4,1426.3 L916.5,1435.4 L912.0,1440.0 L902.9,1430.9Z M902.9,1430.9 L907.4,1435.4 L898.4,1444.5 L893.8,1440.0Z M907.4,1435.4 L916.5,1444.5 L912.0,1449.1 L902.9,1440.0Z M902.9,1440.0 L907.4,1444.5 L898.4,1453.6 L893.8,1449.1Z M907.4,1444.5 L916.5,1453.6 L912.0,1458.2 L902.9,1449.1Z M902.9,1449.1 L907.4,1453.6 L898.4,1462.7 L893.8,1458.2Z M907.4,1453.6 L916.5,1462.7 L912.0,1467.3 L902.9,1458.2Z M902.9,1458.2 L907.4,1462.7 L898.4,1471.8 L893.8,1467.3Z M907.4,1462.7 L916.5,1471.8 L912.0,1476.4 L902.9,1467.3Z M902.9,1467.3 L907.4,1471.8 L898.4,1480.9 L893.8,1476.4Z M907.4,1471.8 L916.5,1480.9 L912.0,1485.4 L902.9,1476.4Z M902.9,1476.4 L907.4,1480.9 L898.4,1490.0 L893.8,1485.4Z M925.6,1308.1 L934.7,1317.2 L930.2,1321.8 L921.1,1312.7Z M921.1,1312.7 L925.6,1317.2 L916.5,1326.3 L912.0,1321.8Z M925.6,1317.2 L934.7,1326.3 L930.2,1330.9 L921.1,1321.8Z M921.1,1321.8 L925.6,1326.3 L916.5,1335.4 L912.0,1330.9Z M925.6,1326.3 L934.7,1335.4 L930.2,1340.0 L921.1,1330.9Z M921.1,1330.9 L925.6,1335.4 L916.5,1344.5 L912.0,1340.0Z M925.6,1335.4 L934.7,1344.5 L930.2,1349.0 L921.1,1340.0Z M921.1,1340.0 L925.6,1344.5 L916.5,1353.6 L912.0,1349.0Z M925.6,1344.5 L934.7,1353.6 L930.2,1358.1 L921.1,1349.0Z M921.1,1349.0 L925.6,1353.6 L916.5,1362.7 L912.0,1358.1Z M925.6,1353.6 L934.7,1362.7 L930.2,1367.2 L921.1,1358.1Z M921.1,1358.1 L925.6,1362.7 L916.5,1371.8 L912.0,1367.2Z M925.6,1362.7 L934.7,1371.8 L930.2,1376.3 L921.1,1367.2Z M921.1,1367.2 L925.6,1371.8 L916.5,1380.9 L912.0,1376.3Z M925.6,1371.8 L934.7,1380.9 L930.2,1385.4 L921.1,1376.3Z M921.1,1376.3 L925.6,1380.9 L916.5,1390.0 L912.0,1385.4Z M925.6,1380.9 L934.7,1390.0 L930.2,1394.5 L921.1,1385.4Z M921.1,1385.4 L925.6,1390.0 L916.5,1399.1 L912.0,1394.5Z M925.6,1390.0 L934.7,1399.1 L930.2,1403.6 L921.1,1394.5Z M921.1,1394.5 L925.6,1399.1 L916.5,1408.2 L912.0,1403.6Z M925.6,1399.1 L934.7,1408.2 L930.2,1412.7 L921.1,1403.6Z M921.1,1403.6 L925.6,1408.2 L916.5,1417.2 L912.0,1412.7Z M925.6,1408.2 L934.7,1417.2 L930.2,1421.8 L921.1,1412.7Z M921.1,1412.7 L925.6,1417.2 L916.5,1426.3 L912.0,1421.8Z M925.6,1417.2 L934.7,1426.3 L930.2,1430.9 L921.1,1421.8Z M921.1,1421.8 L925.6,1426.3 L916.5,1435.4 L912.0,1430.9Z M925.6,1426.3 L934.7,1435.4 L930.2,1440.0 L921.1,1430.9Z M921.1,1430.9 L925.6,1435.4 L916.5,1444.5 L912.0,1440.0Z M925.6,1435.4 L934.7,1444.5 L930.2,1449.1 L921.1,1440.0Z M921.1,1440.0 L925.6,1444.5 L916.5,1453.6 L912.0,1449.1Z M925.6,1444.5 L934.7,1453.6 L930.2,1458.2 L921.1,1449.1Z M921.1,1449.1 L925.6,1453.6 L916.5,1462.7 L912.0,1458.2Z M925.6,1453.6 L934.7,1462.7 L930.2,1467.3 L921.1,1458.2Z M921.1,1458.2 L925.6,1462.7 L916.5,1471.8 L912.0,1467.3Z M925.6,1462.7 L934.7,1471.8 L930.2,1476.4 L921.1,1467.3Z M921.1,1467.3 L925.6,1471.8 L916.5,1480.9 L912.0,1476.4Z M925.6,1471.8 L934.7,1480.9 L930.2,1485.4 L921.1,1476.4Z M921.1,1476.4 L925.6,1480.9 L916.5,1490.0 L912.0,1485.4Z" fill="none" stroke="#333" stroke-width="1.0"/></g>
<path d="M840.60,1345.12 L840.90,1380.00 L841.30,1386.00 L842.60,1393.00 L852.20,1442.40 M863.80,1347.27 L865.20,1374.00 L866.00,1381.00 L867.60,1388.00 L880.60,1437.40" stroke="#3a3a3a" stroke-width="1.1" fill="none" stroke-linejoin="round" />
<g transform="translate(828.2 1472.3) rotate(0)">
<rect x="-14.9" y="0" width="29.80" height="6.80" rx="0.6" fill="#fff" stroke="#3a3a3a" stroke-width="1.0"/>
<line x1="-14.9" y1="6.5" x2="14.9" y2="6.5" stroke="#222" stroke-width="1.3"/>
<path d="M-13.8,6.8 L-12.6,8.6 L-12.6,29.6 L-13.8,30.9 M13.8,6.8 L12.6,8.6 L12.6,29.6 L13.8,30.9 M-12.6,8.6 L12.6,8.6 M-12.6,29.6 L12.6,29.6" stroke="#3a3a3a" stroke-width="0.9" fill="none"/>
<rect x="-14.9" y="30.9" width="29.80" height="4.70" rx="1.4" fill="#fff" stroke="#3a3a3a" stroke-width="1.0"/>
<line x1="-14.9" y1="33.3" x2="14.9" y2="33.3" stroke="#222" stroke-width="1.6"/>
<path d="M-13.6,35.6 L-13.6,38 M13.6,35.6 L13.6,38" stroke="#3a3a3a" stroke-width="1" fill="none"/>
<path d="M-20.9,38 L20.9,38 L25.1,43.5 L25.1,59.6 L20.9,64.6 L-20.9,64.6 L-25.1,59.6 L-25.1,43.5 Z" stroke="#3a3a3a" stroke-width="1.1" fill="#fff" stroke-linejoin="round"/>
<path d="M-20.9,38.8 Q-17,42.6 -13.2,43.1 M-11.9,43.1 Q0,37.6 11.7,43.1 M12.9,43.1 Q17,42.6 20.9,38.8 M-13.2,43.1 L-13.2,60.2 M-11.9,43.1 L-11.9,60.2 M11.7,43.1 L11.7,60.2 M12.9,43.1 L12.9,60.2 M-20.9,64 Q-17,60.6 -13.2,60.2 M-11.9,60.2 Q0,65 11.7,60.2 M12.9,60.2 Q17,60.6 20.9,64 M-20.9,38.8 Q-24.2,41 -24.2,44 L-24.2,59 Q-24.2,62 -20.9,64 M20.9,38.8 Q24.2,41 24.2,44 L24.2,59 Q24.2,62 20.9,64" stroke="#3a3a3a" stroke-width="0.85" fill="none"/>
</g>
<g transform="translate(866.4 1439.8) rotate(-10.3)">
<rect x="-14.9" y="0" width="29.80" height="6.80" rx="0.6" fill="#fff" stroke="#3a3a3a" stroke-width="1.0"/>
<line x1="-14.9" y1="6.5" x2="14.9" y2="6.5" stroke="#222" stroke-width="1.3"/>
<path d="M-13.8,6.8 L-12.6,8.6 L-12.6,29.6 L-13.8,30.9 M13.8,6.8 L12.6,8.6 L12.6,29.6 L13.8,30.9 M-12.6,8.6 L12.6,8.6 M-12.6,29.6 L12.6,29.6" stroke="#3a3a3a" stroke-width="0.9" fill="none"/>
<rect x="-14.9" y="30.9" width="29.80" height="4.70" rx="1.4" fill="#fff" stroke="#3a3a3a" stroke-width="1.0"/>
<line x1="-14.9" y1="33.3" x2="14.9" y2="33.3" stroke="#222" stroke-width="1.6"/>
<path d="M-13.6,35.6 L-13.6,38 M13.6,35.6 L13.6,38" stroke="#3a3a3a" stroke-width="1" fill="none"/>
<path d="M-20.9,38 L20.9,38 L25.1,43.5 L25.1,59.6 L20.9,64.6 L-20.9,64.6 L-25.1,59.6 L-25.1,43.5 Z" stroke="#3a3a3a" stroke-width="1.1" fill="#fff" stroke-linejoin="round"/>
<path d="M-20.9,38.8 Q-17,42.6 -13.2,43.1 M-11.9,43.1 Q0,37.6 11.7,43.1 M12.9,43.1 Q17,42.6 20.9,38.8 M-13.2,43.1 L-13.2,60.2 M-11.9,43.1 L-11.9,60.2 M11.7,43.1 L11.7,60.2 M12.9,43.1 L12.9,60.2 M-20.9,64 Q-17,60.6 -13.2,60.2 M-11.9,60.2 Q0,65 11.7,60.2 M12.9,60.2 Q17,60.6 20.9,64 M-20.9,38.8 Q-24.2,41 -24.2,44 L-24.2,59 Q-24.2,62 -20.9,64 M20.9,38.8 Q24.2,41 24.2,44 L24.2,59 Q24.2,62 20.9,64" stroke="#3a3a3a" stroke-width="0.85" fill="none"/>
</g>
<line x1="1163.40" y1="33.00" x2="1163.40" y2="1171.10" stroke="#444" stroke-width="1.0" />
<line x1="1356.60" y1="33.00" x2="1356.60" y2="864.40" stroke="#444" stroke-width="1.0" />
<line x1="1163.40" y1="36.40" x2="1356.60" y2="36.40" stroke="#444" stroke-width="1.0" />
<polygon points="1163.40,36.40 1188.40,32.00 1188.40,40.80" fill="#000"/>
<polygon points="1356.60,36.40 1331.60,32.00 1331.60,40.80" fill="#000"/>
<text transform="translate(1260.00 26.60) scale(0.9492 1)" x="0" y="0" font-size="37.4" text-anchor="middle" fill="#000">91</text>
<path d="M1191.4,530.3 L1191.4,106.75 A24.55,24.55 0 0 1 1240.5,106.75 L1240.5,530.3" stroke="#3a3a3a" stroke-width="1.0" fill="none" stroke-linejoin="round" />
<path d="M1184.4,536 L1171.6,536 L1171.6,1171.1 M1248.3,536 L1260.5,536 L1260.5,864.4 M1260.5,949.1 L1260.5,1171.1" stroke="#3a3a3a" stroke-width="1.0" fill="none" stroke-linejoin="round" />
<line x1="1171.60" y1="641.90" x2="1184.40" y2="641.90" stroke="#3a3a3a" stroke-width="1.2" />
<line x1="1248.30" y1="641.90" x2="1260.50" y2="641.90" stroke="#3a3a3a" stroke-width="1.2" />
<line x1="1171.60" y1="727.40" x2="1184.40" y2="727.40" stroke="#3a3a3a" stroke-width="1.2" />
<line x1="1248.30" y1="727.40" x2="1260.50" y2="727.40" stroke="#3a3a3a" stroke-width="1.2" />
<path d="M1184.4,548.6 L1184.4,533.3 Q1184.4,530.3 1187.4,530.3 L1245.3,530.3 Q1248.3,530.3 1248.3,533.3 L1248.3,548.6 Z" stroke="#3a3a3a" stroke-width="1.0" fill="#fff" stroke-linejoin="round" />
<path d="M1184.4,548.6 L1184.4,581.3 M1248.3,548.6 L1248.3,581.3" stroke="#3a3a3a" stroke-width="0.9" fill="none" stroke-linejoin="round" />
<path d="M1188.6,549 L1188.6,581 M1243.5,549 L1243.5,581" stroke="#3a3a3a" stroke-width="1.0" fill="none" stroke-linejoin="round" />
<path d="M1185.4,550.5 Q1186.2,565 1185.8,580 M1187,550.5 Q1187.6,565 1187.4,580 M1247.3,550.5 Q1246.5,565 1246.9,580 M1245.6,550.5 Q1245,565 1245.2,580" stroke="#555" stroke-width="0.8" fill="none" stroke-linejoin="round" />
<line x1="1184.40" y1="548.80" x2="1248.30" y2="548.80" stroke="#3a3a3a" stroke-width="1.4" />
<path d="M1184.4,581.3 L1248.3,581.3 L1248.3,729.3 Q1248.3,731.3 1246.3,731.3 L1186.4,731.3 Q1184.4,731.3 1184.4,729.3 Z" stroke="#3a3a3a" stroke-width="1.0" fill="none" stroke-linejoin="round" />
<line x1="1184.40" y1="603.40" x2="1248.30" y2="603.40" stroke="#3a3a3a" stroke-width="1.0" />
<rect x="1206.70" y="613.50" width="18.70" height="64.80" rx="9.35" ry="9.35" stroke="#2a2a2a" stroke-width="1.3" fill="none"/>
<rect x="1208.60" y="616.30" width="15.20" height="60.30" rx="7.6" ry="7.6" stroke="#444" stroke-width="0.8" fill="none"/>
<path d="M1322.5,864.4 L1322.5,695.8 Q1322.5,695.3 1323,695.3 L1338.8,695.3 Q1339.3,695.3 1339.3,695.8 L1339.3,864.4" stroke="#3a3a3a" stroke-width="1.0" fill="none" stroke-linejoin="round" />
<path d="M1260.5,864.4 L1295.3,864.4 L1295.3,949.1 L1260.5,949.1 L1234.4,919.2 Q1229.2,912 1229.3,905.5 Q1229.4,899 1235,892.2 Z" stroke="#3a3a3a" stroke-width="1.1" fill="#fff" stroke-linejoin="round" />
<line x1="1295.30" y1="866.00" x2="1300.30" y2="866.00" stroke="#3a3a3a" stroke-width="0.9" />
<ellipse cx="1330.4" cy="949.6" rx="10.2" ry="3.2" fill="#666" stroke="#3a3a3a" stroke-width="0.9"/>
<path d="M1300.3,864.4 L1356.2,864.4 L1356.2,949.1 L1318.3,949.1 L1300.3,906.6 Z" stroke="#3a3a3a" stroke-width="1.1" fill="#fff" stroke-linejoin="round" />
<path d="M1322.5,864.6 Q1331,866.3 1339.3,864.6" stroke="#3a3a3a" stroke-width="0.8" fill="none" stroke-linejoin="round" />
<path d="M1295.3,946.6 L1304.6,946.6 Q1310,945.8 1314.2,942 M1304.6,917 L1304.6,946.6" stroke="#3a3a3a" stroke-width="0.9" fill="none" stroke-linejoin="round" />
<rect x="1163.40" y="1171.10" width="105.80" height="10.30" rx="0.8" ry="0.8" stroke="#3a3a3a" stroke-width="1.2" fill="#fff"/>
<clipPath id="sA"><path d="M1187.40,1181.60 L1213.30,1181.60 L1213.30,1224.12 L1212.45,1223.81 L1210.97,1223.32 L1209.48,1222.88 L1207.99,1222.51 L1206.50,1222.21 L1205.00,1221.99 L1203.50,1221.85 L1202.00,1221.80 L1200.50,1221.84 L1199.00,1221.97 L1197.50,1222.17 L1196.01,1222.45 L1194.52,1222.78 L1193.03,1223.18 L1191.55,1223.62 L1190.08,1224.11 L1188.61,1224.64 L1187.40,1225.11Z"/></clipPath>
<g clip-path="url(#sA)"><path d="M1163.0,1152.7 L1172.1,1161.8 L1167.6,1166.4 L1158.5,1157.3Z M1158.5,1157.3 L1163.0,1161.8 L1153.9,1170.9 L1149.4,1166.4Z M1163.0,1161.8 L1172.1,1170.9 L1167.6,1175.5 L1158.5,1166.4Z M1158.5,1166.4 L1163.0,1170.9 L1153.9,1180.0 L1149.4,1175.5Z M1163.0,1170.9 L1172.1,1180.0 L1167.6,1184.5 L1158.5,1175.5Z M1158.5,1175.5 L1163.0,1180.0 L1153.9,1189.1 L1149.4,1184.5Z M1163.0,1180.0 L1172.1,1189.1 L1167.6,1193.6 L1158.5,1184.5Z M1158.5,1184.5 L1163.0,1189.1 L1153.9,1198.2 L1149.4,1193.6Z M1163.0,1189.1 L1172.1,1198.2 L1167.6,1202.7 L1158.5,1193.6Z M1158.5,1193.6 L1163.0,1198.2 L1153.9,1207.3 L1149.4,1202.7Z M1163.0,1198.2 L1172.1,1207.3 L1167.6,1211.8 L1158.5,1202.7Z M1158.5,1202.7 L1163.0,1207.3 L1153.9,1216.4 L1149.4,1211.8Z M1163.0,1207.3 L1172.1,1216.4 L1167.6,1220.9 L1158.5,1211.8Z M1158.5,1211.8 L1163.0,1216.4 L1153.9,1225.5 L1149.4,1220.9Z M1163.0,1216.4 L1172.1,1225.5 L1167.6,1230.0 L1158.5,1220.9Z M1158.5,1220.9 L1163.0,1225.5 L1153.9,1234.6 L1149.4,1230.0Z M1163.0,1225.5 L1172.1,1234.6 L1167.6,1239.1 L1158.5,1230.0Z M1158.5,1230.0 L1163.0,1234.6 L1153.9,1243.7 L1149.4,1239.1Z M1163.0,1234.6 L1172.1,1243.7 L1167.6,1248.2 L1158.5,1239.1Z M1158.5,1239.1 L1163.0,1243.7 L1153.9,1252.7 L1149.4,1248.2Z M1163.0,1243.7 L1172.1,1252.7 L1167.6,1257.3 L1158.5,1248.2Z M1158.5,1248.2 L1163.0,1252.7 L1153.9,1261.8 L1149.4,1257.3Z M1163.0,1252.7 L1172.1,1261.8 L1167.6,1266.4 L1158.5,1257.3Z M1158.5,1257.3 L1163.0,1261.8 L1153.9,1270.9 L1149.4,1266.4Z M1181.2,1152.7 L1190.3,1161.8 L1185.7,1166.4 L1176.7,1157.3Z M1176.7,1157.3 L1181.2,1161.8 L1172.1,1170.9 L1167.6,1166.4Z M1181.2,1161.8 L1190.3,1170.9 L1185.7,1175.5 L1176.7,1166.4Z M1176.7,1166.4 L1181.2,1170.9 L1172.1,1180.0 L1167.6,1175.5Z M1181.2,1170.9 L1190.3,1180.0 L1185.7,1184.5 L1176.7,1175.5Z M1176.7,1175.5 L1181.2,1180.0 L1172.1,1189.1 L1167.6,1184.5Z M1181.2,1180.0 L1190.3,1189.1 L1185.7,1193.6 L1176.7,1184.5Z M1176.7,1184.5 L1181.2,1189.1 L1172.1,1198.2 L1167.6,1193.6Z M1181.2,1189.1 L1190.3,1198.2 L1185.7,1202.7 L1176.7,1193.6Z M1176.7,1193.6 L1181.2,1198.2 L1172.1,1207.3 L1167.6,1202.7Z M1181.2,1198.2 L1190.3,1207.3 L1185.7,1211.8 L1176.7,1202.7Z M1176.7,1202.7 L1181.2,1207.3 L1172.1,1216.4 L1167.6,1211.8Z M1181.2,1207.3 L1190.3,1216.4 L1185.7,1220.9 L1176.7,1211.8Z M1176.7,1211.8 L1181.2,1216.4 L1172.1,1225.5 L1167.6,1220.9Z M1181.2,1216.4 L1190.3,1225.5 L1185.7,1230.0 L1176.7,1220.9Z M1176.7,1220.9 L1181.2,1225.5 L1172.1,1234.6 L1167.6,1230.0Z M1181.2,1225.5 L1190.3,1234.6 L1185.7,1239.1 L1176.7,1230.0Z M1176.7,1230.0 L1181.2,1234.6 L1172.1,1243.7 L1167.6,1239.1Z M1181.2,1234.6 L1190.3,1243.7 L1185.7,1248.2 L1176.7,1239.1Z M1176.7,1239.1 L1181.2,1243.7 L1172.1,1252.7 L1167.6,1248.2Z M1181.2,1243.7 L1190.3,1252.7 L1185.7,1257.3 L1176.7,1248.2Z M1176.7,1248.2 L1181.2,1252.7 L1172.1,1261.8 L1167.6,1257.3Z M1181.2,1252.7 L1190.3,1261.8 L1185.7,1266.4 L1176.7,1257.3Z M1176.7,1257.3 L1181.2,1261.8 L1172.1,1270.9 L1167.6,1266.4Z M1199.4,1152.7 L1208.5,1161.8 L1203.9,1166.4 L1194.8,1157.3Z M1194.8,1157.3 L1199.4,1161.8 L1190.3,1170.9 L1185.7,1166.4Z M1199.4,1161.8 L1208.5,1170.9 L1203.9,1175.5 L1194.8,1166.4Z M1194.8,1166.4 L1199.4,1170.9 L1190.3,1180.0 L1185.7,1175.5Z M1199.4,1170.9 L1208.5,1180.0 L1203.9,1184.5 L1194.8,1175.5Z M1194.8,1175.5 L1199.4,1180.0 L1190.3,1189.1 L1185.7,1184.5Z M1199.4,1180.0 L1208.5,1189.1 L1203.9,1193.6 L1194.8,1184.5Z M1194.8,1184.5 L1199.4,1189.1 L1190.3,1198.2 L1185.7,1193.6Z M1199.4,1189.1 L1208.5,1198.2 L1203.9,1202.7 L1194.8,1193.6Z M1194.8,1193.6 L1199.4,1198.2 L1190.3,1207.3 L1185.7,1202.7Z M1199.4,1198.2 L1208.5,1207.3 L1203.9,1211.8 L1194.8,1202.7Z M1194.8,1202.7 L1199.4,1207.3 L1190.3,1216.4 L1185.7,1211.8Z M1199.4,1207.3 L1208.5,1216.4 L1203.9,1220.9 L1194.8,1211.8Z M1194.8,1211.8 L1199.4,1216.4 L1190.3,1225.5 L1185.7,1220.9Z M1199.4,1216.4 L1208.5,1225.5 L1203.9,1230.0 L1194.8,1220.9Z M1194.8,1220.9 L1199.4,1225.5 L1190.3,1234.6 L1185.7,1230.0Z M1199.4,1225.5 L1208.5,1234.6 L1203.9,1239.1 L1194.8,1230.0Z M1194.8,1230.0 L1199.4,1234.6 L1190.3,1243.7 L1185.7,1239.1Z M1199.4,1234.6 L1208.5,1243.7 L1203.9,1248.2 L1194.8,1239.1Z M1194.8,1239.1 L1199.4,1243.7 L1190.3,1252.7 L1185.7,1248.2Z M1199.4,1243.7 L1208.5,1252.7 L1203.9,1257.3 L1194.8,1248.2Z M1194.8,1248.2 L1199.4,1252.7 L1190.3,1261.8 L1185.7,1257.3Z M1199.4,1252.7 L1208.5,1261.8 L1203.9,1266.4 L1194.8,1257.3Z M1194.8,1257.3 L1199.4,1261.8 L1190.3,1270.9 L1185.7,1266.4Z M1217.6,1152.7 L1226.7,1161.8 L1222.1,1166.4 L1213.0,1157.3Z M1213.0,1157.3 L1217.6,1161.8 L1208.5,1170.9 L1203.9,1166.4Z M1217.6,1161.8 L1226.7,1170.9 L1222.1,1175.5 L1213.0,1166.4Z M1213.0,1166.4 L1217.6,1170.9 L1208.5,1180.0 L1203.9,1175.5Z M1217.6,1170.9 L1226.7,1180.0 L1222.1,1184.5 L1213.0,1175.5Z M1213.0,1175.5 L1217.6,1180.0 L1208.5,1189.1 L1203.9,1184.5Z M1217.6,1180.0 L1226.7,1189.1 L1222.1,1193.6 L1213.0,1184.5Z M1213.0,1184.5 L1217.6,1189.1 L1208.5,1198.2 L1203.9,1193.6Z M1217.6,1189.1 L1226.7,1198.2 L1222.1,1202.7 L1213.0,1193.6Z M1213.0,1193.6 L1217.6,1198.2 L1208.5,1207.3 L1203.9,1202.7Z M1217.6,1198.2 L1226.7,1207.3 L1222.1,1211.8 L1213.0,1202.7Z M1213.0,1202.7 L1217.6,1207.3 L1208.5,1216.4 L1203.9,1211.8Z M1217.6,1207.3 L1226.7,1216.4 L1222.1,1220.9 L1213.0,1211.8Z M1213.0,1211.8 L1217.6,1216.4 L1208.5,1225.5 L1203.9,1220.9Z M1217.6,1216.4 L1226.7,1225.5 L1222.1,1230.0 L1213.0,1220.9Z M1213.0,1220.9 L1217.6,1225.5 L1208.5,1234.6 L1203.9,1230.0Z M1217.6,1225.5 L1226.7,1234.6 L1222.1,1239.1 L1213.0,1230.0Z M1213.0,1230.0 L1217.6,1234.6 L1208.5,1243.7 L1203.9,1239.1Z M1217.6,1234.6 L1226.7,1243.7 L1222.1,1248.2 L1213.0,1239.1Z M1213.0,1239.1 L1217.6,1243.7 L1208.5,1252.7 L1203.9,1248.2Z M1217.6,1243.7 L1226.7,1252.7 L1222.1,1257.3 L1213.0,1248.2Z M1213.0,1248.2 L1217.6,1252.7 L1208.5,1261.8 L1203.9,1257.3Z M1217.6,1252.7 L1226.7,1261.8 L1222.1,1266.4 L1213.0,1257.3Z M1213.0,1257.3 L1217.6,1261.8 L1208.5,1270.9 L1203.9,1266.4Z M1235.8,1152.7 L1244.9,1161.8 L1240.3,1166.4 L1231.2,1157.3Z M1231.2,1157.3 L1235.8,1161.8 L1226.7,1170.9 L1222.1,1166.4Z M1235.8,1161.8 L1244.9,1170.9 L1240.3,1175.5 L1231.2,1166.4Z M1231.2,1166.4 L1235.8,1170.9 L1226.7,1180.0 L1222.1,1175.5Z M1235.8,1170.9 L1244.9,1180.0 L1240.3,1184.5 L1231.2,1175.5Z M1231.2,1175.5 L1235.8,1180.0 L1226.7,1189.1 L1222.1,1184.5Z M1235.8,1180.0 L1244.9,1189.1 L1240.3,1193.6 L1231.2,1184.5Z M1231.2,1184.5 L1235.8,1189.1 L1226.7,1198.2 L1222.1,1193.6Z M1235.8,1189.1 L1244.9,1198.2 L1240.3,1202.7 L1231.2,1193.6Z M1231.2,1193.6 L1235.8,1198.2 L1226.7,1207.3 L1222.1,1202.7Z M1235.8,1198.2 L1244.9,1207.3 L1240.3,1211.8 L1231.2,1202.7Z M1231.2,1202.7 L1235.8,1207.3 L1226.7,1216.4 L1222.1,1211.8Z M1235.8,1207.3 L1244.9,1216.4 L1240.3,1220.9 L1231.2,1211.8Z M1231.2,1211.8 L1235.8,1216.4 L1226.7,1225.5 L1222.1,1220.9Z M1235.8,1216.4 L1244.9,1225.5 L1240.3,1230.0 L1231.2,1220.9Z M1231.2,1220.9 L1235.8,1225.5 L1226.7,1234.6 L1222.1,1230.0Z M1235.8,1225.5 L1244.9,1234.6 L1240.3,1239.1 L1231.2,1230.0Z M1231.2,1230.0 L1235.8,1234.6 L1226.7,1243.7 L1222.1,1239.1Z M1235.8,1234.6 L1244.9,1243.7 L1240.3,1248.2 L1231.2,1239.1Z M1231.2,1239.1 L1235.8,1243.7 L1226.7,1252.7 L1222.1,1248.2Z M1235.8,1243.7 L1244.9,1252.7 L1240.3,1257.3 L1231.2,1248.2Z M1231.2,1248.2 L1235.8,1252.7 L1226.7,1261.8 L1222.1,1257.3Z M1235.8,1252.7 L1244.9,1261.8 L1240.3,1266.4 L1231.2,1257.3Z M1231.2,1257.3 L1235.8,1261.8 L1226.7,1270.9 L1222.1,1266.4Z" fill="none" stroke="#333" stroke-width="1.0"/></g>
<clipPath id="sB"><path d="M1187.40,1239.01 L1188.61,1238.54 L1190.08,1238.01 L1191.55,1237.52 L1193.03,1237.08 L1194.52,1236.68 L1196.01,1236.35 L1197.50,1236.07 L1199.00,1235.87 L1200.50,1235.74 L1202.00,1235.70 L1203.50,1235.75 L1205.00,1235.89 L1206.50,1236.11 L1207.99,1236.41 L1209.48,1236.78 L1210.97,1237.22 L1212.45,1237.71 L1213.30,1238.02 L1213.30,1295.40 L1187.40,1295.40Z"/></clipPath>
<g clip-path="url(#sB)"><path d="M1163.0,1207.2 L1172.1,1216.3 L1167.6,1220.9 L1158.5,1211.8Z M1158.5,1211.8 L1163.0,1216.3 L1153.9,1225.4 L1149.4,1220.9Z M1163.0,1216.3 L1172.1,1225.4 L1167.6,1230.0 L1158.5,1220.9Z M1158.5,1220.9 L1163.0,1225.4 L1153.9,1234.5 L1149.4,1230.0Z M1163.0,1225.4 L1172.1,1234.5 L1167.6,1239.0 L1158.5,1230.0Z M1158.5,1230.0 L1163.0,1234.5 L1153.9,1243.6 L1149.4,1239.0Z M1163.0,1234.5 L1172.1,1243.6 L1167.6,1248.1 L1158.5,1239.0Z M1158.5,1239.0 L1163.0,1243.6 L1153.9,1252.7 L1149.4,1248.1Z M1163.0,1243.6 L1172.1,1252.7 L1167.6,1257.2 L1158.5,1248.1Z M1158.5,1248.1 L1163.0,1252.7 L1153.9,1261.8 L1149.4,1257.2Z M1163.0,1252.7 L1172.1,1261.8 L1167.6,1266.3 L1158.5,1257.2Z M1158.5,1257.2 L1163.0,1261.8 L1153.9,1270.9 L1149.4,1266.3Z M1163.0,1261.8 L1172.1,1270.9 L1167.6,1275.4 L1158.5,1266.3Z M1158.5,1266.3 L1163.0,1270.9 L1153.9,1280.0 L1149.4,1275.4Z M1163.0,1270.9 L1172.1,1280.0 L1167.6,1284.5 L1158.5,1275.4Z M1158.5,1275.4 L1163.0,1280.0 L1153.9,1289.1 L1149.4,1284.5Z M1163.0,1280.0 L1172.1,1289.1 L1167.6,1293.6 L1158.5,1284.5Z M1158.5,1284.5 L1163.0,1289.1 L1153.9,1298.2 L1149.4,1293.6Z M1163.0,1289.1 L1172.1,1298.2 L1167.6,1302.7 L1158.5,1293.6Z M1158.5,1293.6 L1163.0,1298.2 L1153.9,1307.2 L1149.4,1302.7Z M1163.0,1298.2 L1172.1,1307.2 L1167.6,1311.8 L1158.5,1302.7Z M1158.5,1302.7 L1163.0,1307.2 L1153.9,1316.3 L1149.4,1311.8Z M1163.0,1307.2 L1172.1,1316.3 L1167.6,1320.9 L1158.5,1311.8Z M1158.5,1311.8 L1163.0,1316.3 L1153.9,1325.4 L1149.4,1320.9Z M1163.0,1316.3 L1172.1,1325.4 L1167.6,1330.0 L1158.5,1320.9Z M1158.5,1320.9 L1163.0,1325.4 L1153.9,1334.5 L1149.4,1330.0Z M1181.2,1207.2 L1190.3,1216.3 L1185.7,1220.9 L1176.7,1211.8Z M1176.7,1211.8 L1181.2,1216.3 L1172.1,1225.4 L1167.6,1220.9Z M1181.2,1216.3 L1190.3,1225.4 L1185.7,1230.0 L1176.7,1220.9Z M1176.7,1220.9 L1181.2,1225.4 L1172.1,1234.5 L1167.6,1230.0Z M1181.2,1225.4 L1190.3,1234.5 L1185.7,1239.0 L1176.7,1230.0Z M1176.7,1230.0 L1181.2,1234.5 L1172.1,1243.6 L1167.6,1239.0Z M1181.2,1234.5 L1190.3,1243.6 L1185.7,1248.1 L1176.7,1239.0Z M1176.7,1239.0 L1181.2,1243.6 L1172.1,1252.7 L1167.6,1248.1Z M1181.2,1243.6 L1190.3,1252.7 L1185.7,1257.2 L1176.7,1248.1Z M1176.7,1248.1 L1181.2,1252.7 L1172.1,1261.8 L1167.6,1257.2Z M1181.2,1252.7 L1190.3,1261.8 L1185.7,1266.3 L1176.7,1257.2Z M1176.7,1257.2 L1181.2,1261.8 L1172.1,1270.9 L1167.6,1266.3Z M1181.2,1261.8 L1190.3,1270.9 L1185.7,1275.4 L1176.7,1266.3Z M1176.7,1266.3 L1181.2,1270.9 L1172.1,1280.0 L1167.6,1275.4Z M1181.2,1270.9 L1190.3,1280.0 L1185.7,1284.5 L1176.7,1275.4Z M1176.7,1275.4 L1181.2,1280.0 L1172.1,1289.1 L1167.6,1284.5Z M1181.2,1280.0 L1190.3,1289.1 L1185.7,1293.6 L1176.7,1284.5Z M1176.7,1284.5 L1181.2,1289.1 L1172.1,1298.2 L1167.6,1293.6Z M1181.2,1289.1 L1190.3,1298.2 L1185.7,1302.7 L1176.7,1293.6Z M1176.7,1293.6 L1181.2,1298.2 L1172.1,1307.2 L1167.6,1302.7Z M1181.2,1298.2 L1190.3,1307.2 L1185.7,1311.8 L1176.7,1302.7Z M1176.7,1302.7 L1181.2,1307.2 L1172.1,1316.3 L1167.6,1311.8Z M1181.2,1307.2 L1190.3,1316.3 L1185.7,1320.9 L1176.7,1311.8Z M1176.7,1311.8 L1181.2,1316.3 L1172.1,1325.4 L1167.6,1320.9Z M1181.2,1316.3 L1190.3,1325.4 L1185.7,1330.0 L1176.7,1320.9Z M1176.7,1320.9 L1181.2,1325.4 L1172.1,1334.5 L1167.6,1330.0Z M1199.4,1207.2 L1208.5,1216.3 L1203.9,1220.9 L1194.8,1211.8Z M1194.8,1211.8 L1199.4,1216.3 L1190.3,1225.4 L1185.7,1220.9Z M1199.4,1216.3 L1208.5,1225.4 L1203.9,1230.0 L1194.8,1220.9Z M1194.8,1220.9 L1199.4,1225.4 L1190.3,1234.5 L1185.7,1230.0Z M1199.4,1225.4 L1208.5,1234.5 L1203.9,1239.0 L1194.8,1230.0Z M1194.8,1230.0 L1199.4,1234.5 L1190.3,1243.6 L1185.7,1239.0Z M1199.4,1234.5 L1208.5,1243.6 L1203.9,1248.1 L1194.8,1239.0Z M1194.8,1239.0 L1199.4,1243.6 L1190.3,1252.7 L1185.7,1248.1Z M1199.4,1243.6 L1208.5,1252.7 L1203.9,1257.2 L1194.8,1248.1Z M1194.8,1248.1 L1199.4,1252.7 L1190.3,1261.8 L1185.7,1257.2Z M1199.4,1252.7 L1208.5,1261.8 L1203.9,1266.3 L1194.8,1257.2Z M1194.8,1257.2 L1199.4,1261.8 L1190.3,1270.9 L1185.7,1266.3Z M1199.4,1261.8 L1208.5,1270.9 L1203.9,1275.4 L1194.8,1266.3Z M1194.8,1266.3 L1199.4,1270.9 L1190.3,1280.0 L1185.7,1275.4Z M1199.4,1270.9 L1208.5,1280.0 L1203.9,1284.5 L1194.8,1275.4Z M1194.8,1275.4 L1199.4,1280.0 L1190.3,1289.1 L1185.7,1284.5Z M1199.4,1280.0 L1208.5,1289.1 L1203.9,1293.6 L1194.8,1284.5Z M1194.8,1284.5 L1199.4,1289.1 L1190.3,1298.2 L1185.7,1293.6Z M1199.4,1289.1 L1208.5,1298.2 L1203.9,1302.7 L1194.8,1293.6Z M1194.8,1293.6 L1199.4,1298.2 L1190.3,1307.2 L1185.7,1302.7Z M1199.4,1298.2 L1208.5,1307.2 L1203.9,1311.8 L1194.8,1302.7Z M1194.8,1302.7 L1199.4,1307.2 L1190.3,1316.3 L1185.7,1311.8Z M1199.4,1307.2 L1208.5,1316.3 L1203.9,1320.9 L1194.8,1311.8Z M1194.8,1311.8 L1199.4,1316.3 L1190.3,1325.4 L1185.7,1320.9Z M1199.4,1316.3 L1208.5,1325.4 L1203.9,1330.0 L1194.8,1320.9Z M1194.8,1320.9 L1199.4,1325.4 L1190.3,1334.5 L1185.7,1330.0Z M1217.6,1207.2 L1226.7,1216.3 L1222.1,1220.9 L1213.0,1211.8Z M1213.0,1211.8 L1217.6,1216.3 L1208.5,1225.4 L1203.9,1220.9Z M1217.6,1216.3 L1226.7,1225.4 L1222.1,1230.0 L1213.0,1220.9Z M1213.0,1220.9 L1217.6,1225.4 L1208.5,1234.5 L1203.9,1230.0Z M1217.6,1225.4 L1226.7,1234.5 L1222.1,1239.0 L1213.0,1230.0Z M1213.0,1230.0 L1217.6,1234.5 L1208.5,1243.6 L1203.9,1239.0Z M1217.6,1234.5 L1226.7,1243.6 L1222.1,1248.1 L1213.0,1239.0Z M1213.0,1239.0 L1217.6,1243.6 L1208.5,1252.7 L1203.9,1248.1Z M1217.6,1243.6 L1226.7,1252.7 L1222.1,1257.2 L1213.0,1248.1Z M1213.0,1248.1 L1217.6,1252.7 L1208.5,1261.8 L1203.9,1257.2Z M1217.6,1252.7 L1226.7,1261.8 L1222.1,1266.3 L1213.0,1257.2Z M1213.0,1257.2 L1217.6,1261.8 L1208.5,1270.9 L1203.9,1266.3Z M1217.6,1261.8 L1226.7,1270.9 L1222.1,1275.4 L1213.0,1266.3Z M1213.0,1266.3 L1217.6,1270.9 L1208.5,1280.0 L1203.9,1275.4Z M1217.6,1270.9 L1226.7,1280.0 L1222.1,1284.5 L1213.0,1275.4Z M1213.0,1275.4 L1217.6,1280.0 L1208.5,1289.1 L1203.9,1284.5Z M1217.6,1280.0 L1226.7,1289.1 L1222.1,1293.6 L1213.0,1284.5Z M1213.0,1284.5 L1217.6,1289.1 L1208.5,1298.2 L1203.9,1293.6Z M1217.6,1289.1 L1226.7,1298.2 L1222.1,1302.7 L1213.0,1293.6Z M1213.0,1293.6 L1217.6,1298.2 L1208.5,1307.2 L1203.9,1302.7Z M1217.6,1298.2 L1226.7,1307.2 L1222.1,1311.8 L1213.0,1302.7Z M1213.0,1302.7 L1217.6,1307.2 L1208.5,1316.3 L1203.9,1311.8Z M1217.6,1307.2 L1226.7,1316.3 L1222.1,1320.9 L1213.0,1311.8Z M1213.0,1311.8 L1217.6,1316.3 L1208.5,1325.4 L1203.9,1320.9Z M1217.6,1316.3 L1226.7,1325.4 L1222.1,1330.0 L1213.0,1320.9Z M1213.0,1320.9 L1217.6,1325.4 L1208.5,1334.5 L1203.9,1330.0Z M1235.8,1207.2 L1244.9,1216.3 L1240.3,1220.9 L1231.2,1211.8Z M1231.2,1211.8 L1235.8,1216.3 L1226.7,1225.4 L1222.1,1220.9Z M1235.8,1216.3 L1244.9,1225.4 L1240.3,1230.0 L1231.2,1220.9Z M1231.2,1220.9 L1235.8,1225.4 L1226.7,1234.5 L1222.1,1230.0Z M1235.8,1225.4 L1244.9,1234.5 L1240.3,1239.0 L1231.2,1230.0Z M1231.2,1230.0 L1235.8,1234.5 L1226.7,1243.6 L1222.1,1239.0Z M1235.8,1234.5 L1244.9,1243.6 L1240.3,1248.1 L1231.2,1239.0Z M1231.2,1239.0 L1235.8,1243.6 L1226.7,1252.7 L1222.1,1248.1Z M1235.8,1243.6 L1244.9,1252.7 L1240.3,1257.2 L1231.2,1248.1Z M1231.2,1248.1 L1235.8,1252.7 L1226.7,1261.8 L1222.1,1257.2Z M1235.8,1252.7 L1244.9,1261.8 L1240.3,1266.3 L1231.2,1257.2Z M1231.2,1257.2 L1235.8,1261.8 L1226.7,1270.9 L1222.1,1266.3Z M1235.8,1261.8 L1244.9,1270.9 L1240.3,1275.4 L1231.2,1266.3Z M1231.2,1266.3 L1235.8,1270.9 L1226.7,1280.0 L1222.1,1275.4Z M1235.8,1270.9 L1244.9,1280.0 L1240.3,1284.5 L1231.2,1275.4Z M1231.2,1275.4 L1235.8,1280.0 L1226.7,1289.1 L1222.1,1284.5Z M1235.8,1280.0 L1244.9,1289.1 L1240.3,1293.6 L1231.2,1284.5Z M1231.2,1284.5 L1235.8,1289.1 L1226.7,1298.2 L1222.1,1293.6Z M1235.8,1289.1 L1244.9,1298.2 L1240.3,1302.7 L1231.2,1293.6Z M1231.2,1293.6 L1235.8,1298.2 L1226.7,1307.2 L1222.1,1302.7Z M1235.8,1298.2 L1244.9,1307.2 L1240.3,1311.8 L1231.2,1302.7Z M1231.2,1302.7 L1235.8,1307.2 L1226.7,1316.3 L1222.1,1311.8Z M1235.8,1307.2 L1244.9,1316.3 L1240.3,1320.9 L1231.2,1311.8Z M1231.2,1311.8 L1235.8,1316.3 L1226.7,1325.4 L1222.1,1320.9Z M1235.8,1316.3 L1244.9,1325.4 L1240.3,1330.0 L1231.2,1320.9Z M1231.2,1320.9 L1235.8,1325.4 L1226.7,1334.5 L1222.1,1330.0Z" fill="none" stroke="#333" stroke-width="1.0"/></g>
<path d="M1187.4,1181.6 L1187.4,1225.11 M1213.3,1181.6 L1213.3,1224.12 M1187.4,1239.01 L1187.4,1295.4 M1213.3,1238.02 L1213.3,1295.4" stroke="#3a3a3a" stroke-width="1.2" fill="none" stroke-linejoin="round" />
<path d="M1178.60,1228.90 L1179.99,1228.28 L1181.40,1227.65 L1182.82,1227.02 L1184.25,1226.40 L1185.69,1225.79 L1187.15,1225.20 L1188.61,1224.64 L1190.08,1224.11 L1191.55,1223.62 L1193.03,1223.18 L1194.52,1222.78 L1196.01,1222.45 L1197.50,1222.17 L1199.00,1221.97 L1200.50,1221.84 L1202.00,1221.80 L1203.50,1221.85 L1205.00,1221.99 L1206.50,1222.21 L1207.99,1222.51 L1209.48,1222.88 L1210.97,1223.32 L1212.45,1223.81 L1213.92,1224.35 L1215.39,1224.93 L1216.85,1225.55 L1218.31,1226.20 L1219.75,1226.86 L1221.18,1227.54 L1222.60,1228.23 L1224.01,1228.92 L1225.40,1229.60" stroke="#3a3a3a" stroke-width="1.0" fill="none" stroke-linejoin="round" />
<path d="M1178.60,1242.80 L1179.99,1242.18 L1181.40,1241.55 L1182.82,1240.92 L1184.25,1240.30 L1185.69,1239.69 L1187.15,1239.10 L1188.61,1238.54 L1190.08,1238.01 L1191.55,1237.52 L1193.03,1237.08 L1194.52,1236.68 L1196.01,1236.35 L1197.50,1236.07 L1199.00,1235.87 L1200.50,1235.74 L1202.00,1235.70 L1203.50,1235.75 L1205.00,1235.89 L1206.50,1236.11 L1207.99,1236.41 L1209.48,1236.78 L1210.97,1237.22 L1212.45,1237.71 L1213.92,1238.25 L1215.39,1238.83 L1216.85,1239.45 L1218.31,1240.10 L1219.75,1240.76 L1221.18,1241.44 L1222.60,1242.13 L1224.01,1242.82 L1225.40,1243.50" stroke="#3a3a3a" stroke-width="1.0" fill="none" stroke-linejoin="round" />
<rect x="1185.30" y="1295.40" width="30.20" height="6.40" rx="0.8" ry="0.8" stroke="#3a3a3a" stroke-width="1.0" fill="#fff"/>
<path d="M1187.4,1301.8 L1187.4,1325 M1213.3,1301.8 L1213.3,1325" stroke="#3a3a3a" stroke-width="1.0" fill="none" stroke-linejoin="round" />
<rect x="1185.30" y="1325.00" width="30.20" height="6.80" rx="1.2" ry="1.2" stroke="#3a3a3a" stroke-width="1.0" fill="#fff"/>
<line x1="1185.30" y1="1328.20" x2="1215.50" y2="1328.20" stroke="#222" stroke-width="1.5" />
<path d="M1180.5,1333.2 L1220.5,1333.2 Q1223.1,1334.5 1223.1,1337 L1223.1,1355.2 Q1223.1,1357.8 1220.5,1359 L1180.5,1359 Q1177.9,1357.8 1177.9,1355.2 L1177.9,1337 Q1177.9,1334.5 1180.5,1333.2 Z" stroke="#3a3a3a" stroke-width="1.1" fill="#fff" stroke-linejoin="round" />
<path d="M1180.2,1338 Q1180.5,1335.4 1184,1335.4 L1195.5,1335.4 L1199.6,1339.7 L1199.6,1351.7 L1195.5,1356.8 L1184,1356.8 Q1180.5,1356.8 1180.2,1354 M1220.8,1338 Q1220.5,1335.4 1217,1335.4 L1204.6,1335.4 L1200.5,1339.7 L1200.5,1351.7 L1204.6,1356.8 L1217,1356.8 Q1220.5,1356.8 1220.8,1354" stroke="#3a3a3a" stroke-width="0.9" fill="none" stroke-linejoin="round" />
<rect x="1182.5" y="1359.4" width="35.4" height="7.6" fill="#fff"/>
<line x1="1182.30" y1="1360.20" x2="1218.00" y2="1361.10" stroke="#111" stroke-width="1.6" />
<line x1="1182.30" y1="1362.20" x2="1218.00" y2="1363.10" stroke="#111" stroke-width="1.6" />
<line x1="1182.30" y1="1364.20" x2="1218.00" y2="1365.10" stroke="#111" stroke-width="1.6" />
<line x1="1182.30" y1="1366.20" x2="1218.00" y2="1367.10" stroke="#111" stroke-width="1.6" />
<path d="M1175.5,1368.2 L1225,1368.2 Q1226,1368.2 1226,1369.2 L1226,1379 Q1226,1381.3 1223.8,1381.3 L1176.7,1381.3 Q1174.5,1381.3 1174.5,1379 L1174.5,1369.2 Q1174.5,1368.2 1175.5,1368.2 Z" stroke="#3a3a3a" stroke-width="1.1" fill="#fff" stroke-linejoin="round" />
<path d="M1186.6,1368.2 L1186.6,1381.3 M1188.4,1368.2 L1188.4,1379 Q1189,1381 1192,1381 L1208.5,1381 Q1211.5,1381 1212.2,1379 L1212.2,1368.2 M1213.9,1368.2 L1213.9,1381.3" stroke="#3a3a3a" stroke-width="0.9" fill="none" stroke-linejoin="round" />
<path d="M1185.3,1381.3 L1185.3,1399.4 L1214.8,1399.4 L1214.8,1381.3" stroke="#3a3a3a" stroke-width="1.0" fill="#fff" stroke-linejoin="round" />
<rect x="1186.2" y="1394.6" width="27.8" height="4.8" fill="#aaa" stroke="#888" stroke-width="0.6"/>
<rect x="1195.00" y="1384.00" width="10.70" height="4.60" rx="0" ry="0" stroke="#3a3a3a" stroke-width="0.9" fill="none"/>
<line x1="1195.00" y1="1386.30" x2="1205.70" y2="1386.30" stroke="#3a3a3a" stroke-width="0.8" />
</svg>
</body></html>
